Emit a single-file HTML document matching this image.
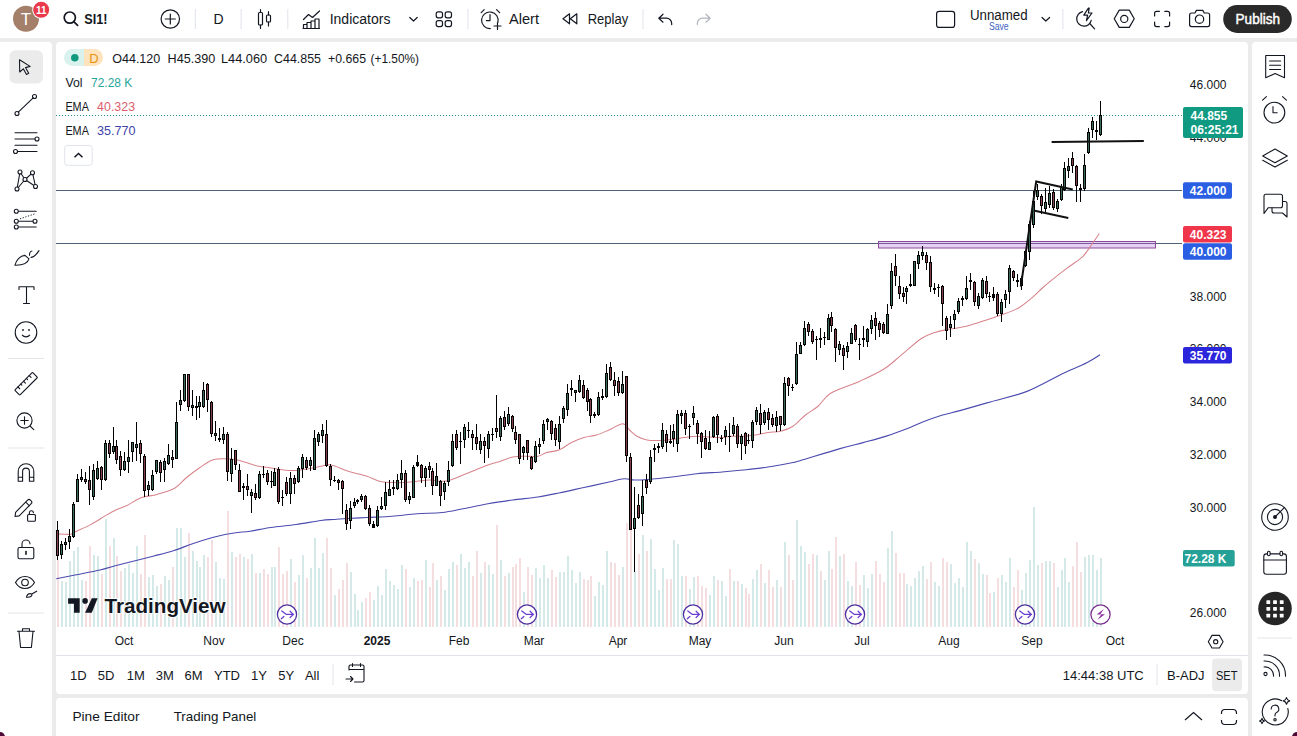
<!DOCTYPE html><html><head><meta charset="utf-8"><style>
html,body{margin:0;padding:0}
body{width:1297px;height:736px;background:#ebebeb;position:relative;overflow:hidden;font-family:"Liberation Sans",sans-serif;color:#131722}
</style></head><body>
<div style="position:absolute;left:0;top:0;width:1297px;height:38px;background:#fff"></div>
<svg style="position:absolute;left:0;top:0" width="1297" height="38"><circle cx="26" cy="18.8" r="13" fill="#a47f69"/><text x="26" y="25" font-size="17" fill="#fff" text-anchor="middle" font-family="Liberation Sans">T</text><circle cx="41.2" cy="9.8" r="9" fill="#fff"/><circle cx="41.2" cy="9.8" r="8" fill="#e9394b"/><text x="41.2" y="13.6" font-size="10" font-weight="bold" fill="#fff" text-anchor="middle" font-family="Liberation Sans">11</text><circle cx="69.8" cy="17.6" r="5.6" stroke="#131722" stroke-width="1.7" fill="none"/><line x1="73.8" y1="21.6" x2="77.6" y2="25.4" stroke="#131722" stroke-width="1.7" stroke-linecap="round"/><text x="84.3" y="24.4" font-size="14.5" font-weight="bold" fill="#131722" font-family="Liberation Sans" textLength="23.2" lengthAdjust="spacingAndGlyphs">SI1!</text><circle cx="170.3" cy="19" r="9.2" stroke="#131722" fill="none" stroke-width="1.2" stroke-linecap="round" stroke-linejoin="round"/><path d="M170.3 14v10M165.3 19h10" stroke="#131722" fill="none" stroke-width="1.2" stroke-linecap="round" stroke-linejoin="round"/><rect x="194.8" y="9" width="1" height="20" fill="#e0e3eb"/><rect x="240.6" y="9" width="1" height="20" fill="#e0e3eb"/><rect x="287.3" y="9" width="1" height="20" fill="#e0e3eb"/><rect x="467.4" y="9" width="1" height="20" fill="#e0e3eb"/><rect x="642.5" y="9" width="1" height="20" fill="#e0e3eb"/><rect x="1062.4" y="9" width="1" height="20" fill="#e0e3eb"/><text x="213.4" y="24" font-size="14" fill="#131722" font-family="Liberation Sans">D</text><path d="M260.5 9.5v3M260.5 25v3.5M268.5 11.5v3.5M268.5 22v4" stroke="#131722" fill="none" stroke-width="1.2" stroke-linecap="round" stroke-linejoin="round"/><rect x="258.5" y="12.5" width="4" height="12.5" rx="1" stroke="#131722" fill="none" stroke-width="1.2" stroke-linecap="round" stroke-linejoin="round"/><rect x="266.5" y="15" width="4" height="7" rx="1" stroke="#131722" fill="none" stroke-width="1.2" stroke-linecap="round" stroke-linejoin="round"/><path d="M303.5 19.5l5-5 4 3 7-6.5" stroke="#131722" fill="none" stroke-width="1.2" stroke-linecap="round" stroke-linejoin="round"/><path d="M303.5 28.5v-4h3.5v4M307 28.5v-6h4v6M311 28.5v-7.5h4v7.5M315 28.5v-9.5h4v9.5M303 28.5h16.5" stroke="#131722" fill="none" stroke-width="1.2" stroke-linecap="round" stroke-linejoin="round"/><text x="329.7" y="23.8" font-size="14" fill="#131722" font-family="Liberation Sans">Indicators</text><path d="M409.8 17.5l3.7 3.5 3.7-3.5" stroke="#131722" fill="none" stroke-width="1.2" stroke-linecap="round" stroke-linejoin="round"/><rect x="436.2" y="11.8" width="6.3" height="6.0" rx="2" stroke="#131722" fill="none" stroke-width="1.2" stroke-linecap="round" stroke-linejoin="round"/><rect x="445.2" y="11.8" width="6.3" height="6.0" rx="2" stroke="#131722" fill="none" stroke-width="1.2" stroke-linecap="round" stroke-linejoin="round"/><rect x="436.2" y="20.6" width="6.3" height="6.0" rx="2" stroke="#131722" fill="none" stroke-width="1.2" stroke-linecap="round" stroke-linejoin="round"/><rect x="445.2" y="20.6" width="6.3" height="6.0" rx="2" stroke="#131722" fill="none" stroke-width="1.2" stroke-linecap="round" stroke-linejoin="round"/><path d="M490.3 28.6a8.3 8.3 0 1 1 7.6 -6.2" stroke="#131722" fill="none" stroke-width="1.2" stroke-linecap="round" stroke-linejoin="round"/><path d="M490 14.6v6h-3.6M481.2 12.6l3-3M499.6 12.6l-3-3M497.5 22.5v7M494 26h7" stroke="#131722" fill="none" stroke-width="1.2" stroke-linecap="round" stroke-linejoin="round"/><text x="509" y="23.8" font-size="14" fill="#131722" font-family="Liberation Sans" textLength="30" lengthAdjust="spacingAndGlyphs">Alert</text><path d="M569.5 13.8l-6.5 5 6.5 5zM576.8 13.8l-6.5 5 6.5 5z" stroke="#131722" fill="none" stroke-width="1.2" stroke-linecap="round" stroke-linejoin="round"/><text x="587.7" y="23.8" font-size="14" fill="#131722" font-family="Liberation Sans" textLength="40.5" lengthAdjust="spacingAndGlyphs">Replay</text><path d="M663 14.2l-4.2 4 4.2 4M659 18.2h7.5a5.2 5.2 0 0 1 5.2 5.2v1.2" stroke="#131722" fill="none" stroke-width="1.2" stroke-linecap="round" stroke-linejoin="round"/><path d="M706 14.2l4.2 4-4.2 4M710 18.2h-7.5a5.2 5.2 0 0 0-5.2 5.2v1.2" stroke="#b2b5be" fill="none" stroke-width="1.2" stroke-linecap="round" stroke-linejoin="round"/><rect x="936.6" y="11.4" width="18" height="16" rx="2.5" stroke="#131722" fill="none" stroke-width="1.2" stroke-linecap="round" stroke-linejoin="round"/><text x="970" y="19.8" font-size="14" fill="#131722" font-family="Liberation Sans" textLength="57.6" lengthAdjust="spacingAndGlyphs">Unnamed</text><text x="988.9" y="30" font-size="10.5" fill="#3d5fc4" font-family="Liberation Sans" textLength="19.8" lengthAdjust="spacingAndGlyphs">Save</text><path d="M1042 17.5l3.8 3.5 3.8-3.5" stroke="#131722" fill="none" stroke-width="1.2" stroke-linecap="round" stroke-linejoin="round"/><path d="M1082.6 11.7a7.3 7.3 0 1 0 8.6 8.6" stroke="#131722" fill="none" stroke-width="1.2" stroke-linecap="round" stroke-linejoin="round"/><path d="M1090.2 24l4.4 4.8" stroke="#131722" fill="none" stroke-width="1.2" stroke-linecap="round" stroke-linejoin="round"/><path d="M1088.4 8.2l-4.6 7h3.8l-1.2 5.4 5.6-7.6h-3.6l0.8-4.8z" stroke="#131722" fill="none" stroke-width="1.2" stroke-linecap="round" stroke-linejoin="round"/><path d="M1119.25 10.1h10l5 8.65-5 8.65h-10l-5-8.65z" stroke="#131722" fill="none" stroke-width="1.2" stroke-linecap="round" stroke-linejoin="round"/><circle cx="1124.25" cy="18.9" r="3.6" stroke="#131722" fill="none" stroke-width="1.2" stroke-linecap="round" stroke-linejoin="round"/><path d="M1154.6 16v-2.6a2 2 0 0 1 2-2h2.8M1164.8 11.4h2.8a2 2 0 0 1 2 2v2.6M1169.6 22v2.6a2 2 0 0 1-2 2h-2.8M1159.4 26.6h-2.8a2 2 0 0 1-2-2v-2.6" stroke="#131722" fill="none" stroke-width="1.2" stroke-linecap="round" stroke-linejoin="round"/><path d="M1189.6 15a2 2 0 0 1 2-2h3.4l1.4-2.6h6.4l1.4 2.6h3.4a2 2 0 0 1 2 2v9.6a2 2 0 0 1-2 2h-16a2 2 0 0 1-2-2z" stroke="#131722" fill="none" stroke-width="1.2" stroke-linecap="round" stroke-linejoin="round"/><circle cx="1199.5" cy="19.2" r="4.2" stroke="#131722" fill="none" stroke-width="1.2" stroke-linecap="round" stroke-linejoin="round"/><rect x="1223.2" y="5.1" width="68.6" height="27.8" rx="13.9" fill="#2a2a2a"/><text x="1235.6" y="23.8" font-size="14" fill="#fff" stroke="#fff" stroke-width="0.45" font-family="Liberation Sans" textLength="44.4" lengthAdjust="spacingAndGlyphs">Publish</text></svg>

<div style="position:absolute;left:0;top:42px;width:51.5px;height:694px;background:#fff;border-radius:0 4px 0 0"></div>
<div style="position:absolute;left:55.5px;top:42px;width:1192.5px;height:651.5px;background:#fff;border-radius:4px"></div>
<div style="position:absolute;left:55.5px;top:698px;width:1192.5px;height:40px;background:#fff;border-radius:4px 4px 0 0"></div>
<div style="position:absolute;left:1252px;top:42px;width:45px;height:694px;background:#fff;border-radius:4px 0 0 0"></div>

<svg style="position:absolute;left:0;top:0" width="1297" height="736" font-family="Liberation Sans">
<defs><clipPath id="cp"><rect x="56" y="42" width="1126" height="585"/></clipPath></defs>
<g clip-path="url(#cp)">
<rect x="57" y="560" width="2" height="67" fill="#f4dee0"/>
<rect x="61" y="581" width="2" height="46" fill="#d5eae8"/>
<rect x="65" y="582" width="2" height="45" fill="#d5eae8"/>
<rect x="69" y="561" width="2" height="66" fill="#d5eae8"/>
<rect x="73" y="551" width="2" height="76" fill="#d5eae8"/>
<rect x="77" y="547" width="2" height="80" fill="#d5eae8"/>
<rect x="81" y="580" width="2" height="47" fill="#d5eae8"/>
<rect x="85" y="581" width="2" height="46" fill="#f4dee0"/>
<rect x="89" y="546" width="2" height="81" fill="#f4dee0"/>
<rect x="93" y="555" width="2" height="72" fill="#d5eae8"/>
<rect x="97" y="556" width="2" height="71" fill="#d5eae8"/>
<rect x="101" y="574" width="2" height="53" fill="#f4dee0"/>
<rect x="105" y="519" width="2" height="108" fill="#d5eae8"/>
<rect x="109" y="546" width="2" height="81" fill="#f4dee0"/>
<rect x="113" y="538" width="2" height="89" fill="#d5eae8"/>
<rect x="116" y="556" width="2" height="71" fill="#f4dee0"/>
<rect x="120" y="571" width="2" height="56" fill="#f4dee0"/>
<rect x="124" y="568" width="2" height="59" fill="#d5eae8"/>
<rect x="128" y="564" width="2" height="63" fill="#d5eae8"/>
<rect x="132" y="573" width="2" height="54" fill="#d5eae8"/>
<rect x="136" y="546" width="2" height="81" fill="#d5eae8"/>
<rect x="140" y="574" width="2" height="53" fill="#f4dee0"/>
<rect x="144" y="535" width="2" height="92" fill="#f4dee0"/>
<rect x="148" y="577" width="2" height="50" fill="#d5eae8"/>
<rect x="152" y="575" width="2" height="52" fill="#d5eae8"/>
<rect x="156" y="586" width="2" height="41" fill="#d5eae8"/>
<rect x="160" y="584" width="2" height="43" fill="#f4dee0"/>
<rect x="164" y="576" width="2" height="51" fill="#d5eae8"/>
<rect x="168" y="580" width="2" height="47" fill="#d5eae8"/>
<rect x="172" y="567" width="2" height="60" fill="#f4dee0"/>
<rect x="176" y="528" width="2" height="99" fill="#d5eae8"/>
<rect x="180" y="528" width="2" height="99" fill="#d5eae8"/>
<rect x="184" y="557" width="2" height="70" fill="#d5eae8"/>
<rect x="188" y="533" width="2" height="94" fill="#f4dee0"/>
<rect x="192" y="551" width="2" height="76" fill="#d5eae8"/>
<rect x="196" y="561" width="2" height="66" fill="#d5eae8"/>
<rect x="199" y="567" width="2" height="60" fill="#d5eae8"/>
<rect x="203" y="555" width="2" height="72" fill="#d5eae8"/>
<rect x="207" y="557" width="2" height="70" fill="#f4dee0"/>
<rect x="211" y="540" width="2" height="87" fill="#f4dee0"/>
<rect x="215" y="562" width="2" height="65" fill="#d5eae8"/>
<rect x="219" y="578" width="2" height="49" fill="#d5eae8"/>
<rect x="223" y="579" width="2" height="48" fill="#d5eae8"/>
<rect x="227" y="511" width="2" height="116" fill="#f4dee0"/>
<rect x="231" y="552" width="2" height="75" fill="#d5eae8"/>
<rect x="235" y="557" width="2" height="70" fill="#f4dee0"/>
<rect x="239" y="554" width="2" height="73" fill="#f4dee0"/>
<rect x="243" y="557" width="2" height="70" fill="#d5eae8"/>
<rect x="247" y="559" width="2" height="68" fill="#f4dee0"/>
<rect x="251" y="554" width="2" height="73" fill="#d5eae8"/>
<rect x="255" y="573" width="2" height="54" fill="#f4dee0"/>
<rect x="259" y="573" width="2" height="54" fill="#d5eae8"/>
<rect x="263" y="569" width="2" height="58" fill="#f4dee0"/>
<rect x="267" y="574" width="2" height="53" fill="#f4dee0"/>
<rect x="271" y="567" width="2" height="60" fill="#d5eae8"/>
<rect x="274" y="567" width="2" height="60" fill="#d5eae8"/>
<rect x="278" y="547" width="2" height="80" fill="#f4dee0"/>
<rect x="282" y="574" width="2" height="53" fill="#f4dee0"/>
<rect x="286" y="571" width="2" height="56" fill="#f4dee0"/>
<rect x="290" y="559" width="2" height="68" fill="#d5eae8"/>
<rect x="294" y="582" width="2" height="45" fill="#f4dee0"/>
<rect x="298" y="575" width="2" height="52" fill="#d5eae8"/>
<rect x="302" y="555" width="2" height="72" fill="#d5eae8"/>
<rect x="306" y="578" width="2" height="49" fill="#f4dee0"/>
<rect x="310" y="568" width="2" height="59" fill="#d5eae8"/>
<rect x="314" y="538" width="2" height="89" fill="#d5eae8"/>
<rect x="318" y="568" width="2" height="59" fill="#d5eae8"/>
<rect x="322" y="553" width="2" height="74" fill="#d5eae8"/>
<rect x="326" y="538" width="2" height="89" fill="#f4dee0"/>
<rect x="330" y="568" width="2" height="59" fill="#f4dee0"/>
<rect x="334" y="595" width="2" height="32" fill="#d5eae8"/>
<rect x="338" y="589" width="2" height="38" fill="#f4dee0"/>
<rect x="342" y="580" width="2" height="47" fill="#f4dee0"/>
<rect x="346" y="563" width="2" height="64" fill="#f4dee0"/>
<rect x="350" y="572" width="2" height="55" fill="#d5eae8"/>
<rect x="354" y="594" width="2" height="33" fill="#d5eae8"/>
<rect x="357" y="610" width="2" height="17" fill="#d5eae8"/>
<rect x="361" y="602" width="2" height="25" fill="#d5eae8"/>
<rect x="365" y="598" width="2" height="29" fill="#f4dee0"/>
<rect x="369" y="592" width="2" height="35" fill="#f4dee0"/>
<rect x="373" y="600" width="2" height="27" fill="#d5eae8"/>
<rect x="377" y="586" width="2" height="41" fill="#d5eae8"/>
<rect x="381" y="595" width="2" height="32" fill="#d5eae8"/>
<rect x="385" y="569" width="2" height="58" fill="#d5eae8"/>
<rect x="389" y="581" width="2" height="46" fill="#d5eae8"/>
<rect x="393" y="585" width="2" height="42" fill="#d5eae8"/>
<rect x="397" y="589" width="2" height="38" fill="#d5eae8"/>
<rect x="401" y="565" width="2" height="62" fill="#d5eae8"/>
<rect x="405" y="569" width="2" height="58" fill="#f4dee0"/>
<rect x="409" y="587" width="2" height="40" fill="#d5eae8"/>
<rect x="413" y="578" width="2" height="49" fill="#d5eae8"/>
<rect x="417" y="581" width="2" height="46" fill="#f4dee0"/>
<rect x="421" y="580" width="2" height="47" fill="#f4dee0"/>
<rect x="425" y="560" width="2" height="67" fill="#d5eae8"/>
<rect x="429" y="587" width="2" height="40" fill="#f4dee0"/>
<rect x="432" y="563" width="2" height="64" fill="#f4dee0"/>
<rect x="436" y="580" width="2" height="47" fill="#d5eae8"/>
<rect x="440" y="576" width="2" height="51" fill="#f4dee0"/>
<rect x="444" y="590" width="2" height="37" fill="#d5eae8"/>
<rect x="448" y="569" width="2" height="58" fill="#d5eae8"/>
<rect x="452" y="562" width="2" height="65" fill="#d5eae8"/>
<rect x="456" y="565" width="2" height="62" fill="#f4dee0"/>
<rect x="460" y="554" width="2" height="73" fill="#d5eae8"/>
<rect x="464" y="568" width="2" height="59" fill="#d5eae8"/>
<rect x="468" y="562" width="2" height="65" fill="#d5eae8"/>
<rect x="472" y="576" width="2" height="51" fill="#f4dee0"/>
<rect x="476" y="551" width="2" height="76" fill="#f4dee0"/>
<rect x="480" y="573" width="2" height="54" fill="#d5eae8"/>
<rect x="484" y="562" width="2" height="65" fill="#f4dee0"/>
<rect x="488" y="565" width="2" height="62" fill="#d5eae8"/>
<rect x="492" y="574" width="2" height="53" fill="#d5eae8"/>
<rect x="496" y="525" width="2" height="102" fill="#f4dee0"/>
<rect x="500" y="560" width="2" height="67" fill="#d5eae8"/>
<rect x="504" y="576" width="2" height="51" fill="#f4dee0"/>
<rect x="508" y="573" width="2" height="54" fill="#d5eae8"/>
<rect x="512" y="567" width="2" height="60" fill="#f4dee0"/>
<rect x="515" y="564" width="2" height="63" fill="#f4dee0"/>
<rect x="519" y="558" width="2" height="69" fill="#f4dee0"/>
<rect x="523" y="592" width="2" height="35" fill="#d5eae8"/>
<rect x="527" y="567" width="2" height="60" fill="#f4dee0"/>
<rect x="531" y="575" width="2" height="52" fill="#f4dee0"/>
<rect x="535" y="568" width="2" height="59" fill="#d5eae8"/>
<rect x="539" y="578" width="2" height="49" fill="#d5eae8"/>
<rect x="543" y="565" width="2" height="62" fill="#d5eae8"/>
<rect x="547" y="578" width="2" height="49" fill="#d5eae8"/>
<rect x="551" y="570" width="2" height="57" fill="#f4dee0"/>
<rect x="555" y="577" width="2" height="50" fill="#f4dee0"/>
<rect x="559" y="572" width="2" height="55" fill="#d5eae8"/>
<rect x="563" y="572" width="2" height="55" fill="#d5eae8"/>
<rect x="567" y="556" width="2" height="71" fill="#d5eae8"/>
<rect x="571" y="570" width="2" height="57" fill="#d5eae8"/>
<rect x="575" y="583" width="2" height="44" fill="#d5eae8"/>
<rect x="579" y="572" width="2" height="55" fill="#d5eae8"/>
<rect x="583" y="579" width="2" height="48" fill="#f4dee0"/>
<rect x="587" y="580" width="2" height="47" fill="#f4dee0"/>
<rect x="590" y="576" width="2" height="51" fill="#f4dee0"/>
<rect x="594" y="596" width="2" height="31" fill="#d5eae8"/>
<rect x="598" y="582" width="2" height="45" fill="#d5eae8"/>
<rect x="602" y="585" width="2" height="42" fill="#d5eae8"/>
<rect x="606" y="551" width="2" height="76" fill="#d5eae8"/>
<rect x="610" y="562" width="2" height="65" fill="#f4dee0"/>
<rect x="614" y="563" width="2" height="64" fill="#f4dee0"/>
<rect x="618" y="575" width="2" height="52" fill="#f4dee0"/>
<rect x="622" y="567" width="2" height="60" fill="#d5eae8"/>
<rect x="626" y="523" width="2" height="104" fill="#f4dee0"/>
<rect x="630" y="530" width="2" height="97" fill="#f4dee0"/>
<rect x="634" y="571" width="2" height="56" fill="#d5eae8"/>
<rect x="638" y="554" width="2" height="73" fill="#f4dee0"/>
<rect x="642" y="535" width="2" height="92" fill="#d5eae8"/>
<rect x="646" y="551" width="2" height="76" fill="#f4dee0"/>
<rect x="650" y="539" width="2" height="88" fill="#d5eae8"/>
<rect x="654" y="569" width="2" height="58" fill="#d5eae8"/>
<rect x="658" y="590" width="2" height="37" fill="#d5eae8"/>
<rect x="662" y="568" width="2" height="59" fill="#d5eae8"/>
<rect x="666" y="579" width="2" height="48" fill="#f4dee0"/>
<rect x="670" y="579" width="2" height="48" fill="#f4dee0"/>
<rect x="673" y="540" width="2" height="87" fill="#d5eae8"/>
<rect x="677" y="544" width="2" height="83" fill="#d5eae8"/>
<rect x="681" y="576" width="2" height="51" fill="#d5eae8"/>
<rect x="685" y="576" width="2" height="51" fill="#f4dee0"/>
<rect x="689" y="589" width="2" height="38" fill="#d5eae8"/>
<rect x="693" y="577" width="2" height="50" fill="#d5eae8"/>
<rect x="697" y="576" width="2" height="51" fill="#f4dee0"/>
<rect x="701" y="586" width="2" height="41" fill="#f4dee0"/>
<rect x="705" y="588" width="2" height="39" fill="#f4dee0"/>
<rect x="709" y="595" width="2" height="32" fill="#d5eae8"/>
<rect x="713" y="576" width="2" height="51" fill="#d5eae8"/>
<rect x="717" y="580" width="2" height="47" fill="#f4dee0"/>
<rect x="721" y="581" width="2" height="46" fill="#d5eae8"/>
<rect x="725" y="596" width="2" height="31" fill="#d5eae8"/>
<rect x="729" y="569" width="2" height="58" fill="#f4dee0"/>
<rect x="733" y="581" width="2" height="46" fill="#d5eae8"/>
<rect x="737" y="581" width="2" height="46" fill="#f4dee0"/>
<rect x="741" y="584" width="2" height="43" fill="#d5eae8"/>
<rect x="745" y="588" width="2" height="39" fill="#f4dee0"/>
<rect x="748" y="594" width="2" height="33" fill="#f4dee0"/>
<rect x="752" y="579" width="2" height="48" fill="#d5eae8"/>
<rect x="756" y="570" width="2" height="57" fill="#d5eae8"/>
<rect x="760" y="564" width="2" height="63" fill="#f4dee0"/>
<rect x="764" y="583" width="2" height="44" fill="#d5eae8"/>
<rect x="768" y="570" width="2" height="57" fill="#f4dee0"/>
<rect x="772" y="587" width="2" height="40" fill="#f4dee0"/>
<rect x="776" y="580" width="2" height="47" fill="#d5eae8"/>
<rect x="780" y="587" width="2" height="40" fill="#f4dee0"/>
<rect x="784" y="542" width="2" height="85" fill="#d5eae8"/>
<rect x="788" y="555" width="2" height="72" fill="#f4dee0"/>
<rect x="792" y="580" width="2" height="47" fill="#f4dee0"/>
<rect x="796" y="520" width="2" height="107" fill="#d5eae8"/>
<rect x="800" y="546" width="2" height="81" fill="#d5eae8"/>
<rect x="804" y="552" width="2" height="75" fill="#d5eae8"/>
<rect x="808" y="564" width="2" height="63" fill="#f4dee0"/>
<rect x="812" y="554" width="2" height="73" fill="#f4dee0"/>
<rect x="816" y="555" width="2" height="72" fill="#d5eae8"/>
<rect x="820" y="571" width="2" height="56" fill="#f4dee0"/>
<rect x="824" y="580" width="2" height="47" fill="#d5eae8"/>
<rect x="828" y="551" width="2" height="76" fill="#d5eae8"/>
<rect x="831" y="569" width="2" height="58" fill="#f4dee0"/>
<rect x="835" y="537" width="2" height="90" fill="#f4dee0"/>
<rect x="839" y="556" width="2" height="71" fill="#d5eae8"/>
<rect x="843" y="554" width="2" height="73" fill="#f4dee0"/>
<rect x="847" y="581" width="2" height="46" fill="#d5eae8"/>
<rect x="851" y="586" width="2" height="41" fill="#d5eae8"/>
<rect x="855" y="562" width="2" height="65" fill="#f4dee0"/>
<rect x="859" y="585" width="2" height="42" fill="#f4dee0"/>
<rect x="863" y="575" width="2" height="52" fill="#d5eae8"/>
<rect x="867" y="588" width="2" height="39" fill="#d5eae8"/>
<rect x="871" y="574" width="2" height="53" fill="#d5eae8"/>
<rect x="875" y="561" width="2" height="66" fill="#f4dee0"/>
<rect x="879" y="574" width="2" height="53" fill="#f4dee0"/>
<rect x="883" y="582" width="2" height="45" fill="#f4dee0"/>
<rect x="887" y="548" width="2" height="79" fill="#d5eae8"/>
<rect x="891" y="531" width="2" height="96" fill="#d5eae8"/>
<rect x="895" y="553" width="2" height="74" fill="#f4dee0"/>
<rect x="899" y="573" width="2" height="54" fill="#f4dee0"/>
<rect x="903" y="573" width="2" height="54" fill="#f4dee0"/>
<rect x="906" y="584" width="2" height="43" fill="#d5eae8"/>
<rect x="910" y="586" width="2" height="41" fill="#d5eae8"/>
<rect x="914" y="578" width="2" height="49" fill="#d5eae8"/>
<rect x="918" y="571" width="2" height="56" fill="#d5eae8"/>
<rect x="922" y="566" width="2" height="61" fill="#d5eae8"/>
<rect x="926" y="579" width="2" height="48" fill="#f4dee0"/>
<rect x="930" y="562" width="2" height="65" fill="#f4dee0"/>
<rect x="934" y="582" width="2" height="45" fill="#d5eae8"/>
<rect x="938" y="586" width="2" height="41" fill="#d5eae8"/>
<rect x="942" y="558" width="2" height="69" fill="#f4dee0"/>
<rect x="946" y="562" width="2" height="65" fill="#f4dee0"/>
<rect x="950" y="564" width="2" height="63" fill="#d5eae8"/>
<rect x="954" y="583" width="2" height="44" fill="#d5eae8"/>
<rect x="958" y="578" width="2" height="49" fill="#d5eae8"/>
<rect x="962" y="587" width="2" height="40" fill="#d5eae8"/>
<rect x="966" y="542" width="2" height="85" fill="#d5eae8"/>
<rect x="970" y="551" width="2" height="76" fill="#d5eae8"/>
<rect x="974" y="559" width="2" height="68" fill="#f4dee0"/>
<rect x="978" y="563" width="2" height="64" fill="#d5eae8"/>
<rect x="982" y="574" width="2" height="53" fill="#d5eae8"/>
<rect x="986" y="575" width="2" height="52" fill="#f4dee0"/>
<rect x="989" y="593" width="2" height="34" fill="#f4dee0"/>
<rect x="993" y="592" width="2" height="35" fill="#d5eae8"/>
<rect x="997" y="578" width="2" height="49" fill="#f4dee0"/>
<rect x="1001" y="575" width="2" height="52" fill="#d5eae8"/>
<rect x="1005" y="582" width="2" height="45" fill="#d5eae8"/>
<rect x="1009" y="558" width="2" height="69" fill="#d5eae8"/>
<rect x="1013" y="587" width="2" height="40" fill="#f4dee0"/>
<rect x="1017" y="570" width="2" height="57" fill="#f4dee0"/>
<rect x="1021" y="590" width="2" height="37" fill="#d5eae8"/>
<rect x="1025" y="573" width="2" height="54" fill="#d5eae8"/>
<rect x="1029" y="560" width="2" height="67" fill="#d5eae8"/>
<rect x="1033" y="507" width="2" height="120" fill="#d5eae8"/>
<rect x="1037" y="565" width="2" height="62" fill="#d5eae8"/>
<rect x="1041" y="563" width="2" height="64" fill="#f4dee0"/>
<rect x="1045" y="561" width="2" height="66" fill="#d5eae8"/>
<rect x="1049" y="561" width="2" height="66" fill="#d5eae8"/>
<rect x="1053" y="563" width="2" height="64" fill="#f4dee0"/>
<rect x="1057" y="587" width="2" height="40" fill="#d5eae8"/>
<rect x="1061" y="570" width="2" height="57" fill="#d5eae8"/>
<rect x="1064" y="558" width="2" height="69" fill="#d5eae8"/>
<rect x="1068" y="582" width="2" height="45" fill="#d5eae8"/>
<rect x="1072" y="566" width="2" height="61" fill="#f4dee0"/>
<rect x="1076" y="542" width="2" height="85" fill="#f4dee0"/>
<rect x="1080" y="572" width="2" height="55" fill="#f4dee0"/>
<rect x="1084" y="557" width="2" height="70" fill="#d5eae8"/>
<rect x="1088" y="555" width="2" height="72" fill="#d5eae8"/>
<rect x="1092" y="555" width="2" height="72" fill="#d5eae8"/>
<rect x="1096" y="570" width="2" height="57" fill="#d5eae8"/>
<rect x="1100" y="558" width="2" height="69" fill="#d5eae8"/>
<rect x="56" y="190" width="1126" height="1" fill="#4f6378"/>
<rect x="56" y="243" width="1126" height="1" fill="#4f6378"/>
<rect x="878.5" y="241.5" width="277" height="6.5" fill="#e7d1f3" stroke="#8b4a9c" stroke-width="1"/>
<rect x="879" y="243" width="276" height="1" fill="#7a5aa0"/>
<path d="M56.50 533.75 C58.80 533.84 67.15 534.64 70.30 534.30 C73.45 533.96 72.00 533.32 75.40 531.70 C78.80 530.08 85.60 527.32 90.70 524.60 C95.80 521.88 101.75 517.87 106.00 515.40 C110.25 512.93 112.80 511.42 116.20 509.80 C119.60 508.18 122.15 507.73 126.40 505.70 C130.65 503.67 136.60 499.47 141.70 497.60 C146.80 495.73 151.45 496.10 157.00 494.50 C162.55 492.90 170.17 490.75 175.00 488.00 C179.83 485.25 181.83 481.42 186.00 478.00 C190.17 474.58 195.58 470.50 200.00 467.50 C204.42 464.50 208.33 461.46 212.50 460.00 C216.67 458.54 220.83 458.75 225.00 458.75 C229.17 458.75 233.33 459.17 237.50 460.00 C241.67 460.83 246.50 462.71 250.00 463.75 C253.50 464.79 255.00 465.54 258.50 466.25 C262.00 466.96 266.83 467.38 271.00 468.00 C275.17 468.62 279.33 469.58 283.50 470.00 C287.67 470.42 291.83 470.71 296.00 470.50 C300.17 470.29 304.33 469.46 308.50 468.75 C312.67 468.04 317.25 466.88 321.00 466.25 C324.75 465.62 326.83 464.29 331.00 465.00 C335.17 465.71 342.08 469.17 346.00 470.50 C349.92 471.83 351.00 472.04 354.50 473.00 C358.00 473.96 362.83 474.88 367.00 476.25 C371.17 477.62 375.33 480.21 379.50 481.25 C383.67 482.29 387.83 482.29 392.00 482.50 C396.17 482.71 400.33 482.71 404.50 482.50 C408.67 482.29 412.83 481.67 417.00 481.25 C421.17 480.83 425.33 480.00 429.50 480.00 C433.67 480.00 438.50 481.25 442.00 481.25 C445.50 481.25 447.00 481.04 450.50 480.00 C454.00 478.96 458.83 476.67 463.00 475.00 C467.17 473.33 471.33 471.67 475.50 470.00 C479.67 468.33 483.83 466.46 488.00 465.00 C492.17 463.54 496.33 462.58 500.50 461.25 C504.67 459.92 508.83 457.83 513.00 457.00 C517.17 456.17 521.33 456.38 525.50 456.25 C529.67 456.12 534.50 456.88 538.00 456.25 C541.50 455.62 543.00 453.54 546.50 452.50 C550.00 451.46 554.83 451.67 559.00 450.00 C563.17 448.33 567.33 444.58 571.50 442.50 C575.67 440.42 579.83 438.75 584.00 437.50 C588.17 436.25 592.33 436.25 596.50 435.00 C600.67 433.75 604.62 431.88 609.00 430.00 C613.38 428.12 619.33 423.75 622.75 423.75 C626.17 423.75 627.12 427.92 629.50 430.00 C631.88 432.08 634.08 434.58 637.00 436.25 C639.92 437.92 643.25 439.29 647.00 440.00 C650.75 440.71 655.33 440.58 659.50 440.50 C663.67 440.42 667.83 440.00 672.00 439.50 C676.17 439.00 680.33 438.04 684.50 437.50 C688.67 436.96 692.83 436.33 697.00 436.25 C701.17 436.17 705.33 436.79 709.50 437.00 C713.67 437.21 718.50 437.62 722.00 437.50 C725.50 437.38 727.00 436.46 730.50 436.25 C734.00 436.04 738.83 436.46 743.00 436.25 C747.17 436.04 751.33 435.62 755.50 435.00 C759.67 434.38 763.83 433.12 768.00 432.50 C772.17 431.88 776.33 432.29 780.50 431.25 C784.67 430.21 788.83 428.96 793.00 426.25 C797.17 423.54 801.33 418.33 805.50 415.00 C809.67 411.67 813.75 409.92 818.00 406.25 C822.25 402.58 824.03 397.18 831.00 393.00 C837.97 388.82 851.03 385.15 859.80 381.20 C868.57 377.25 876.80 373.55 883.60 369.30 C890.40 365.05 894.37 360.80 900.60 355.70 C906.83 350.60 915.27 342.57 921.00 338.70 C926.73 334.83 930.58 334.03 935.00 332.50 C939.42 330.97 943.33 330.33 947.50 329.50 C951.67 328.67 955.83 328.33 960.00 327.50 C964.17 326.67 968.33 325.67 972.50 324.50 C976.67 323.33 980.83 321.88 985.00 320.50 C989.17 319.12 994.75 317.17 997.50 316.25 C1000.25 315.33 998.00 316.38 1001.50 315.00 C1005.00 313.62 1013.60 310.72 1018.50 308.00 C1023.40 305.28 1026.73 302.20 1030.90 298.70 C1035.07 295.20 1039.15 290.80 1043.50 287.00 C1047.85 283.20 1052.58 279.40 1057.00 275.90 C1061.42 272.40 1065.67 269.27 1070.00 266.00 C1074.33 262.73 1079.33 259.97 1083.00 256.30 C1086.67 252.63 1089.28 247.80 1092.00 244.00 C1094.72 240.20 1098.08 235.25 1099.30 233.50" fill="none" stroke="#d8848c" stroke-width="1.05" stroke-linejoin="round"/>
<path d="M56.25 578.75 C59.38 578.12 67.71 576.46 75.00 575.00 C82.29 573.54 93.30 571.53 100.00 570.00 C106.70 568.47 106.20 568.13 115.20 565.80 C124.20 563.47 144.20 558.55 154.00 556.00 C163.80 553.45 167.58 552.54 174.00 550.50 C180.42 548.46 186.08 545.92 192.50 543.75 C198.92 541.58 207.08 539.04 212.50 537.50 C217.92 535.96 220.83 535.33 225.00 534.50 C229.17 533.67 233.33 533.04 237.50 532.50 C241.67 531.96 244.42 532.08 250.00 531.25 C255.58 530.42 263.33 528.62 271.00 527.50 C278.67 526.38 287.67 525.67 296.00 524.50 C304.33 523.33 314.75 521.33 321.00 520.50 C327.25 519.67 329.75 519.79 333.50 519.50 C337.25 519.21 337.92 519.08 343.50 518.75 C349.08 518.42 358.92 517.92 367.00 517.50 C375.08 517.08 383.67 516.88 392.00 516.25 C400.33 515.62 408.67 514.38 417.00 513.75 C425.33 513.12 434.33 513.33 442.00 512.50 C449.67 511.67 455.33 510.21 463.00 508.75 C470.67 507.29 479.67 505.21 488.00 503.75 C496.33 502.29 504.67 501.12 513.00 500.00 C521.33 498.88 530.33 498.17 538.00 497.00 C545.67 495.83 551.33 494.58 559.00 493.00 C566.67 491.42 575.67 489.33 584.00 487.50 C592.33 485.67 602.33 483.46 609.00 482.00 C615.67 480.54 619.75 479.08 624.00 478.75 C628.25 478.42 630.67 479.88 634.50 480.00 C638.33 480.12 640.75 480.00 647.00 479.50 C653.25 479.00 663.67 477.96 672.00 477.00 C680.33 476.04 688.67 474.58 697.00 473.75 C705.33 472.92 714.33 472.62 722.00 472.00 C729.67 471.38 735.33 470.83 743.00 470.00 C750.67 469.17 759.67 468.25 768.00 467.00 C776.33 465.75 787.67 463.55 793.00 462.50 C798.33 461.45 792.17 463.02 800.00 460.70 C807.83 458.38 829.48 451.62 840.00 448.60 C850.52 445.58 855.38 444.68 863.10 442.60 C870.82 440.52 878.58 438.57 886.30 436.10 C894.02 433.63 903.23 430.18 909.40 427.80 C915.57 425.42 917.90 423.88 923.30 421.80 C928.70 419.72 935.68 417.17 941.80 415.30 C947.92 413.43 951.77 412.87 960.00 410.60 C968.23 408.33 980.03 404.90 991.20 401.70 C1002.37 398.50 1015.05 396.10 1027.00 391.40 C1038.95 386.70 1052.93 378.28 1062.90 373.50 C1072.87 368.72 1080.62 365.82 1086.80 362.70 C1092.98 359.58 1097.80 356.12 1100.00 354.80" fill="none" stroke="#4b4bb0" stroke-width="1.15" stroke-linejoin="round"/>
<line x1="56" y1="115.5" x2="1182" y2="115.5" stroke="#2f8f82" stroke-width="1" stroke-dasharray="1 2"/>
<rect x="57" y="521" width="1" height="39" fill="#000"/>
<rect x="56" y="530" width="3" height="26" fill="#000"/>
<rect x="57" y="531" width="1" height="24" fill="#86404a"/>
<rect x="61" y="541" width="1" height="18" fill="#000"/>
<rect x="60" y="544" width="3" height="11" fill="#000"/>
<rect x="61" y="545" width="1" height="9" fill="#3b6a5a"/>
<rect x="65" y="538" width="1" height="12" fill="#000"/>
<rect x="64" y="542" width="3" height="3" fill="#000"/>
<rect x="65" y="543" width="1" height="1" fill="#3b6a5a"/>
<rect x="69" y="529" width="1" height="20" fill="#000"/>
<rect x="68" y="536" width="3" height="6" fill="#000"/>
<rect x="69" y="537" width="1" height="4" fill="#3b6a5a"/>
<rect x="73" y="502" width="1" height="36" fill="#000"/>
<rect x="72" y="504" width="3" height="33" fill="#000"/>
<rect x="73" y="505" width="1" height="31" fill="#3b6a5a"/>
<rect x="77" y="474" width="1" height="28" fill="#000"/>
<rect x="76" y="479" width="3" height="23" fill="#000"/>
<rect x="77" y="480" width="1" height="21" fill="#3b6a5a"/>
<rect x="81" y="469" width="1" height="13" fill="#000"/>
<rect x="80" y="477" width="3" height="3" fill="#000"/>
<rect x="81" y="478" width="1" height="1" fill="#3b6a5a"/>
<rect x="85" y="472" width="1" height="12" fill="#000"/>
<rect x="84" y="479" width="3" height="3" fill="#000"/>
<rect x="85" y="480" width="1" height="1" fill="#86404a"/>
<rect x="89" y="466" width="1" height="39" fill="#000"/>
<rect x="88" y="480" width="3" height="10" fill="#000"/>
<rect x="89" y="481" width="1" height="8" fill="#86404a"/>
<rect x="93" y="464" width="1" height="36" fill="#000"/>
<rect x="92" y="470" width="3" height="27" fill="#000"/>
<rect x="93" y="471" width="1" height="25" fill="#3b6a5a"/>
<rect x="97" y="461" width="1" height="19" fill="#000"/>
<rect x="96" y="468" width="3" height="11" fill="#000"/>
<rect x="97" y="469" width="1" height="9" fill="#3b6a5a"/>
<rect x="101" y="466" width="1" height="24" fill="#000"/>
<rect x="100" y="467" width="3" height="13" fill="#000"/>
<rect x="101" y="468" width="1" height="11" fill="#86404a"/>
<rect x="105" y="440" width="1" height="41" fill="#000"/>
<rect x="104" y="443" width="3" height="37" fill="#000"/>
<rect x="105" y="444" width="1" height="35" fill="#3b6a5a"/>
<rect x="109" y="440" width="1" height="18" fill="#000"/>
<rect x="108" y="443" width="3" height="11" fill="#000"/>
<rect x="109" y="444" width="1" height="9" fill="#86404a"/>
<rect x="113" y="427" width="1" height="27" fill="#000"/>
<rect x="112" y="446" width="3" height="6" fill="#000"/>
<rect x="113" y="447" width="1" height="4" fill="#3b6a5a"/>
<rect x="116" y="440" width="1" height="24" fill="#000"/>
<rect x="115" y="446" width="3" height="14" fill="#000"/>
<rect x="116" y="447" width="1" height="12" fill="#86404a"/>
<rect x="120" y="451" width="1" height="25" fill="#000"/>
<rect x="119" y="456" width="3" height="14" fill="#000"/>
<rect x="120" y="457" width="1" height="12" fill="#86404a"/>
<rect x="124" y="452" width="1" height="19" fill="#000"/>
<rect x="123" y="461" width="3" height="9" fill="#000"/>
<rect x="124" y="462" width="1" height="7" fill="#3b6a5a"/>
<rect x="128" y="440" width="1" height="33" fill="#000"/>
<rect x="127" y="457" width="3" height="5" fill="#000"/>
<rect x="128" y="458" width="1" height="3" fill="#3b6a5a"/>
<rect x="132" y="442" width="1" height="20" fill="#000"/>
<rect x="131" y="442" width="3" height="10" fill="#000"/>
<rect x="132" y="443" width="1" height="8" fill="#3b6a5a"/>
<rect x="136" y="422" width="1" height="39" fill="#000"/>
<rect x="135" y="444" width="3" height="4" fill="#000"/>
<rect x="136" y="445" width="1" height="2" fill="#3b6a5a"/>
<rect x="140" y="440" width="1" height="23" fill="#000"/>
<rect x="139" y="443" width="3" height="11" fill="#000"/>
<rect x="140" y="444" width="1" height="9" fill="#86404a"/>
<rect x="144" y="454" width="1" height="43" fill="#000"/>
<rect x="143" y="456" width="3" height="35" fill="#000"/>
<rect x="144" y="457" width="1" height="33" fill="#86404a"/>
<rect x="148" y="481" width="1" height="15" fill="#000"/>
<rect x="147" y="485" width="3" height="5" fill="#000"/>
<rect x="148" y="486" width="1" height="3" fill="#3b6a5a"/>
<rect x="152" y="470" width="1" height="21" fill="#000"/>
<rect x="151" y="475" width="3" height="15" fill="#000"/>
<rect x="152" y="476" width="1" height="13" fill="#3b6a5a"/>
<rect x="156" y="460" width="1" height="14" fill="#000"/>
<rect x="155" y="460" width="3" height="12" fill="#000"/>
<rect x="156" y="461" width="1" height="10" fill="#3b6a5a"/>
<rect x="160" y="460" width="1" height="22" fill="#000"/>
<rect x="159" y="462" width="3" height="11" fill="#000"/>
<rect x="160" y="463" width="1" height="9" fill="#86404a"/>
<rect x="164" y="458" width="1" height="24" fill="#000"/>
<rect x="163" y="461" width="3" height="9" fill="#000"/>
<rect x="164" y="462" width="1" height="7" fill="#3b6a5a"/>
<rect x="168" y="444" width="1" height="21" fill="#000"/>
<rect x="167" y="455" width="3" height="9" fill="#000"/>
<rect x="168" y="456" width="1" height="7" fill="#3b6a5a"/>
<rect x="172" y="450" width="1" height="18" fill="#000"/>
<rect x="171" y="457" width="3" height="3" fill="#000"/>
<rect x="172" y="458" width="1" height="1" fill="#86404a"/>
<rect x="176" y="402" width="1" height="57" fill="#000"/>
<rect x="175" y="422" width="3" height="37" fill="#000"/>
<rect x="176" y="423" width="1" height="35" fill="#3b6a5a"/>
<rect x="180" y="390" width="1" height="21" fill="#000"/>
<rect x="179" y="400" width="3" height="5" fill="#000"/>
<rect x="180" y="401" width="1" height="3" fill="#3b6a5a"/>
<rect x="184" y="374" width="1" height="28" fill="#000"/>
<rect x="183" y="374" width="3" height="27" fill="#000"/>
<rect x="184" y="375" width="1" height="25" fill="#3b6a5a"/>
<rect x="188" y="374" width="1" height="37" fill="#000"/>
<rect x="187" y="374" width="3" height="33" fill="#000"/>
<rect x="188" y="375" width="1" height="31" fill="#86404a"/>
<rect x="192" y="390" width="1" height="26" fill="#000"/>
<rect x="191" y="405" width="3" height="3" fill="#000"/>
<rect x="192" y="406" width="1" height="1" fill="#3b6a5a"/>
<rect x="196" y="396" width="1" height="24" fill="#000"/>
<rect x="195" y="406" width="3" height="2" fill="#000"/>
<rect x="199" y="396" width="1" height="22" fill="#000"/>
<rect x="198" y="402" width="3" height="5" fill="#000"/>
<rect x="199" y="403" width="1" height="3" fill="#3b6a5a"/>
<rect x="203" y="382" width="1" height="26" fill="#000"/>
<rect x="202" y="390" width="3" height="17" fill="#000"/>
<rect x="203" y="391" width="1" height="15" fill="#3b6a5a"/>
<rect x="207" y="383" width="1" height="29" fill="#000"/>
<rect x="206" y="384" width="3" height="16" fill="#000"/>
<rect x="207" y="385" width="1" height="14" fill="#86404a"/>
<rect x="211" y="401" width="1" height="36" fill="#000"/>
<rect x="210" y="402" width="3" height="32" fill="#000"/>
<rect x="211" y="403" width="1" height="30" fill="#86404a"/>
<rect x="215" y="421" width="1" height="20" fill="#000"/>
<rect x="214" y="433" width="3" height="3" fill="#000"/>
<rect x="215" y="434" width="1" height="1" fill="#3b6a5a"/>
<rect x="219" y="428" width="1" height="14" fill="#000"/>
<rect x="218" y="438" width="3" height="2" fill="#000"/>
<rect x="223" y="427" width="1" height="17" fill="#000"/>
<rect x="222" y="434" width="3" height="6" fill="#000"/>
<rect x="223" y="435" width="1" height="4" fill="#3b6a5a"/>
<rect x="227" y="432" width="1" height="49" fill="#000"/>
<rect x="226" y="434" width="3" height="38" fill="#000"/>
<rect x="227" y="435" width="1" height="36" fill="#86404a"/>
<rect x="231" y="448" width="1" height="34" fill="#000"/>
<rect x="230" y="459" width="3" height="15" fill="#000"/>
<rect x="231" y="460" width="1" height="13" fill="#3b6a5a"/>
<rect x="235" y="450" width="1" height="20" fill="#000"/>
<rect x="234" y="450" width="3" height="15" fill="#000"/>
<rect x="235" y="451" width="1" height="13" fill="#86404a"/>
<rect x="239" y="464" width="1" height="28" fill="#000"/>
<rect x="238" y="470" width="3" height="22" fill="#000"/>
<rect x="239" y="471" width="1" height="20" fill="#86404a"/>
<rect x="243" y="483" width="1" height="17" fill="#000"/>
<rect x="242" y="486" width="3" height="2" fill="#000"/>
<rect x="247" y="474" width="1" height="22" fill="#000"/>
<rect x="246" y="486" width="3" height="4" fill="#000"/>
<rect x="247" y="487" width="1" height="2" fill="#86404a"/>
<rect x="251" y="489" width="1" height="24" fill="#000"/>
<rect x="250" y="492" width="3" height="4" fill="#000"/>
<rect x="251" y="493" width="1" height="2" fill="#3b6a5a"/>
<rect x="255" y="484" width="1" height="16" fill="#000"/>
<rect x="254" y="493" width="3" height="5" fill="#000"/>
<rect x="255" y="494" width="1" height="3" fill="#86404a"/>
<rect x="259" y="471" width="1" height="28" fill="#000"/>
<rect x="258" y="474" width="3" height="24" fill="#000"/>
<rect x="259" y="475" width="1" height="22" fill="#3b6a5a"/>
<rect x="263" y="466" width="1" height="12" fill="#000"/>
<rect x="262" y="474" width="3" height="1" fill="#000"/>
<rect x="267" y="470" width="1" height="15" fill="#000"/>
<rect x="266" y="473" width="3" height="9" fill="#000"/>
<rect x="267" y="474" width="1" height="7" fill="#86404a"/>
<rect x="271" y="471" width="1" height="17" fill="#000"/>
<rect x="270" y="481" width="3" height="1" fill="#000"/>
<rect x="274" y="468" width="1" height="18" fill="#000"/>
<rect x="273" y="472" width="3" height="14" fill="#000"/>
<rect x="274" y="473" width="1" height="12" fill="#3b6a5a"/>
<rect x="278" y="467" width="1" height="37" fill="#000"/>
<rect x="277" y="469" width="3" height="33" fill="#000"/>
<rect x="278" y="470" width="1" height="31" fill="#86404a"/>
<rect x="282" y="490" width="1" height="16" fill="#000"/>
<rect x="281" y="497" width="3" height="1" fill="#000"/>
<rect x="286" y="477" width="1" height="19" fill="#000"/>
<rect x="285" y="482" width="3" height="12" fill="#000"/>
<rect x="286" y="483" width="1" height="10" fill="#86404a"/>
<rect x="290" y="472" width="1" height="32" fill="#000"/>
<rect x="289" y="478" width="3" height="16" fill="#000"/>
<rect x="290" y="479" width="1" height="14" fill="#3b6a5a"/>
<rect x="294" y="475" width="1" height="19" fill="#000"/>
<rect x="293" y="478" width="3" height="6" fill="#000"/>
<rect x="294" y="479" width="1" height="4" fill="#86404a"/>
<rect x="298" y="466" width="1" height="17" fill="#000"/>
<rect x="297" y="468" width="3" height="14" fill="#000"/>
<rect x="298" y="469" width="1" height="12" fill="#3b6a5a"/>
<rect x="302" y="454" width="1" height="24" fill="#000"/>
<rect x="301" y="457" width="3" height="12" fill="#000"/>
<rect x="302" y="458" width="1" height="10" fill="#3b6a5a"/>
<rect x="306" y="457" width="1" height="13" fill="#000"/>
<rect x="305" y="460" width="3" height="8" fill="#000"/>
<rect x="306" y="461" width="1" height="6" fill="#86404a"/>
<rect x="310" y="457" width="1" height="14" fill="#000"/>
<rect x="309" y="460" width="3" height="6" fill="#000"/>
<rect x="310" y="461" width="1" height="4" fill="#3b6a5a"/>
<rect x="314" y="430" width="1" height="40" fill="#000"/>
<rect x="313" y="438" width="3" height="32" fill="#000"/>
<rect x="314" y="439" width="1" height="30" fill="#3b6a5a"/>
<rect x="318" y="432" width="1" height="14" fill="#000"/>
<rect x="317" y="434" width="3" height="8" fill="#000"/>
<rect x="318" y="435" width="1" height="6" fill="#3b6a5a"/>
<rect x="322" y="424" width="1" height="19" fill="#000"/>
<rect x="321" y="430" width="3" height="6" fill="#000"/>
<rect x="322" y="431" width="1" height="4" fill="#3b6a5a"/>
<rect x="326" y="420" width="1" height="47" fill="#000"/>
<rect x="325" y="434" width="3" height="32" fill="#000"/>
<rect x="326" y="435" width="1" height="30" fill="#86404a"/>
<rect x="330" y="464" width="1" height="22" fill="#000"/>
<rect x="329" y="466" width="3" height="14" fill="#000"/>
<rect x="330" y="467" width="1" height="12" fill="#86404a"/>
<rect x="334" y="476" width="1" height="6" fill="#000"/>
<rect x="333" y="480" width="3" height="1" fill="#000"/>
<rect x="338" y="479" width="1" height="11" fill="#000"/>
<rect x="337" y="480" width="3" height="3" fill="#000"/>
<rect x="338" y="481" width="1" height="1" fill="#86404a"/>
<rect x="342" y="480" width="1" height="34" fill="#000"/>
<rect x="341" y="481" width="3" height="8" fill="#000"/>
<rect x="342" y="482" width="1" height="6" fill="#86404a"/>
<rect x="346" y="504" width="1" height="26" fill="#000"/>
<rect x="345" y="510" width="3" height="14" fill="#000"/>
<rect x="346" y="511" width="1" height="12" fill="#86404a"/>
<rect x="350" y="501" width="1" height="28" fill="#000"/>
<rect x="349" y="508" width="3" height="13" fill="#000"/>
<rect x="350" y="509" width="1" height="11" fill="#3b6a5a"/>
<rect x="354" y="498" width="1" height="10" fill="#000"/>
<rect x="353" y="502" width="3" height="4" fill="#000"/>
<rect x="354" y="503" width="1" height="2" fill="#3b6a5a"/>
<rect x="357" y="499" width="1" height="5" fill="#000"/>
<rect x="356" y="500" width="3" height="2" fill="#000"/>
<rect x="361" y="494" width="1" height="8" fill="#000"/>
<rect x="360" y="496" width="3" height="4" fill="#000"/>
<rect x="361" y="497" width="1" height="2" fill="#3b6a5a"/>
<rect x="365" y="495" width="1" height="15" fill="#000"/>
<rect x="364" y="496" width="3" height="13" fill="#000"/>
<rect x="365" y="497" width="1" height="11" fill="#86404a"/>
<rect x="369" y="505" width="1" height="21" fill="#000"/>
<rect x="368" y="508" width="3" height="16" fill="#000"/>
<rect x="369" y="509" width="1" height="14" fill="#86404a"/>
<rect x="373" y="521" width="1" height="7" fill="#000"/>
<rect x="372" y="524" width="3" height="4" fill="#000"/>
<rect x="377" y="506" width="1" height="21" fill="#000"/>
<rect x="376" y="510" width="3" height="16" fill="#000"/>
<rect x="377" y="511" width="1" height="14" fill="#3b6a5a"/>
<rect x="381" y="497" width="1" height="13" fill="#000"/>
<rect x="380" y="506" width="3" height="3" fill="#000"/>
<rect x="381" y="507" width="1" height="1" fill="#3b6a5a"/>
<rect x="385" y="482" width="1" height="28" fill="#000"/>
<rect x="384" y="492" width="3" height="14" fill="#000"/>
<rect x="385" y="493" width="1" height="12" fill="#3b6a5a"/>
<rect x="389" y="480" width="1" height="16" fill="#000"/>
<rect x="388" y="489" width="3" height="7" fill="#000"/>
<rect x="389" y="490" width="1" height="5" fill="#3b6a5a"/>
<rect x="393" y="480" width="1" height="15" fill="#000"/>
<rect x="392" y="487" width="3" height="2" fill="#000"/>
<rect x="397" y="474" width="1" height="16" fill="#000"/>
<rect x="396" y="480" width="3" height="9" fill="#000"/>
<rect x="397" y="481" width="1" height="7" fill="#3b6a5a"/>
<rect x="401" y="460" width="1" height="28" fill="#000"/>
<rect x="400" y="473" width="3" height="7" fill="#000"/>
<rect x="401" y="474" width="1" height="5" fill="#3b6a5a"/>
<rect x="405" y="470" width="1" height="32" fill="#000"/>
<rect x="404" y="473" width="3" height="27" fill="#000"/>
<rect x="405" y="474" width="1" height="25" fill="#86404a"/>
<rect x="409" y="492" width="1" height="12" fill="#000"/>
<rect x="408" y="496" width="3" height="4" fill="#000"/>
<rect x="409" y="497" width="1" height="2" fill="#3b6a5a"/>
<rect x="413" y="465" width="1" height="33" fill="#000"/>
<rect x="412" y="467" width="3" height="31" fill="#000"/>
<rect x="413" y="468" width="1" height="29" fill="#3b6a5a"/>
<rect x="417" y="455" width="1" height="12" fill="#000"/>
<rect x="416" y="462" width="3" height="4" fill="#000"/>
<rect x="421" y="464" width="1" height="19" fill="#000"/>
<rect x="420" y="465" width="3" height="13" fill="#000"/>
<rect x="421" y="466" width="1" height="11" fill="#86404a"/>
<rect x="425" y="466" width="1" height="21" fill="#000"/>
<rect x="424" y="468" width="3" height="10" fill="#000"/>
<rect x="425" y="469" width="1" height="8" fill="#3b6a5a"/>
<rect x="429" y="462" width="1" height="16" fill="#000"/>
<rect x="428" y="466" width="3" height="4" fill="#000"/>
<rect x="429" y="467" width="1" height="2" fill="#86404a"/>
<rect x="432" y="468" width="1" height="27" fill="#000"/>
<rect x="431" y="471" width="3" height="15" fill="#000"/>
<rect x="432" y="472" width="1" height="13" fill="#86404a"/>
<rect x="436" y="463" width="1" height="23" fill="#000"/>
<rect x="435" y="476" width="3" height="10" fill="#000"/>
<rect x="436" y="477" width="1" height="8" fill="#3b6a5a"/>
<rect x="440" y="480" width="1" height="26" fill="#000"/>
<rect x="439" y="481" width="3" height="15" fill="#000"/>
<rect x="440" y="482" width="1" height="13" fill="#86404a"/>
<rect x="444" y="481" width="1" height="19" fill="#000"/>
<rect x="443" y="483" width="3" height="9" fill="#000"/>
<rect x="444" y="484" width="1" height="7" fill="#3b6a5a"/>
<rect x="448" y="461" width="1" height="25" fill="#000"/>
<rect x="447" y="470" width="3" height="12" fill="#000"/>
<rect x="448" y="471" width="1" height="10" fill="#3b6a5a"/>
<rect x="452" y="434" width="1" height="33" fill="#000"/>
<rect x="451" y="441" width="3" height="25" fill="#000"/>
<rect x="452" y="442" width="1" height="23" fill="#3b6a5a"/>
<rect x="456" y="430" width="1" height="20" fill="#000"/>
<rect x="455" y="434" width="3" height="14" fill="#000"/>
<rect x="456" y="435" width="1" height="12" fill="#86404a"/>
<rect x="460" y="432" width="1" height="32" fill="#000"/>
<rect x="459" y="441" width="3" height="1" fill="#000"/>
<rect x="464" y="424" width="1" height="24" fill="#000"/>
<rect x="463" y="427" width="3" height="13" fill="#000"/>
<rect x="464" y="428" width="1" height="11" fill="#3b6a5a"/>
<rect x="468" y="422" width="1" height="16" fill="#000"/>
<rect x="467" y="430" width="3" height="1" fill="#000"/>
<rect x="472" y="430" width="1" height="20" fill="#000"/>
<rect x="471" y="434" width="3" height="4" fill="#000"/>
<rect x="472" y="435" width="1" height="2" fill="#86404a"/>
<rect x="476" y="424" width="1" height="26" fill="#000"/>
<rect x="475" y="437" width="3" height="7" fill="#000"/>
<rect x="476" y="438" width="1" height="5" fill="#86404a"/>
<rect x="480" y="434" width="1" height="20" fill="#000"/>
<rect x="479" y="441" width="3" height="9" fill="#000"/>
<rect x="480" y="442" width="1" height="7" fill="#3b6a5a"/>
<rect x="484" y="437" width="1" height="26" fill="#000"/>
<rect x="483" y="441" width="3" height="5" fill="#000"/>
<rect x="484" y="442" width="1" height="3" fill="#86404a"/>
<rect x="488" y="431" width="1" height="27" fill="#000"/>
<rect x="487" y="434" width="3" height="15" fill="#000"/>
<rect x="488" y="435" width="1" height="13" fill="#3b6a5a"/>
<rect x="492" y="428" width="1" height="13" fill="#000"/>
<rect x="491" y="434" width="3" height="1" fill="#000"/>
<rect x="496" y="395" width="1" height="43" fill="#000"/>
<rect x="495" y="428" width="3" height="4" fill="#000"/>
<rect x="496" y="429" width="1" height="2" fill="#86404a"/>
<rect x="500" y="416" width="1" height="25" fill="#000"/>
<rect x="499" y="418" width="3" height="19" fill="#000"/>
<rect x="500" y="419" width="1" height="17" fill="#3b6a5a"/>
<rect x="504" y="411" width="1" height="19" fill="#000"/>
<rect x="503" y="417" width="3" height="10" fill="#000"/>
<rect x="504" y="418" width="1" height="8" fill="#86404a"/>
<rect x="508" y="407" width="1" height="19" fill="#000"/>
<rect x="507" y="414" width="3" height="10" fill="#000"/>
<rect x="508" y="415" width="1" height="8" fill="#3b6a5a"/>
<rect x="512" y="415" width="1" height="17" fill="#000"/>
<rect x="511" y="416" width="3" height="13" fill="#000"/>
<rect x="512" y="417" width="1" height="11" fill="#86404a"/>
<rect x="515" y="426" width="1" height="18" fill="#000"/>
<rect x="514" y="432" width="3" height="8" fill="#000"/>
<rect x="515" y="433" width="1" height="6" fill="#86404a"/>
<rect x="519" y="434" width="1" height="30" fill="#000"/>
<rect x="518" y="434" width="3" height="25" fill="#000"/>
<rect x="519" y="435" width="1" height="23" fill="#86404a"/>
<rect x="523" y="446" width="1" height="14" fill="#000"/>
<rect x="522" y="447" width="3" height="6" fill="#000"/>
<rect x="523" y="448" width="1" height="4" fill="#3b6a5a"/>
<rect x="527" y="440" width="1" height="20" fill="#000"/>
<rect x="526" y="440" width="3" height="13" fill="#000"/>
<rect x="527" y="441" width="1" height="11" fill="#86404a"/>
<rect x="531" y="456" width="1" height="14" fill="#000"/>
<rect x="530" y="457" width="3" height="12" fill="#000"/>
<rect x="531" y="458" width="1" height="10" fill="#86404a"/>
<rect x="535" y="441" width="1" height="22" fill="#000"/>
<rect x="534" y="446" width="3" height="16" fill="#000"/>
<rect x="535" y="447" width="1" height="14" fill="#3b6a5a"/>
<rect x="539" y="438" width="1" height="16" fill="#000"/>
<rect x="538" y="444" width="3" height="3" fill="#000"/>
<rect x="539" y="445" width="1" height="1" fill="#3b6a5a"/>
<rect x="543" y="420" width="1" height="24" fill="#000"/>
<rect x="542" y="424" width="3" height="17" fill="#000"/>
<rect x="543" y="425" width="1" height="15" fill="#3b6a5a"/>
<rect x="547" y="418" width="1" height="12" fill="#000"/>
<rect x="546" y="419" width="3" height="3" fill="#000"/>
<rect x="547" y="420" width="1" height="1" fill="#3b6a5a"/>
<rect x="551" y="420" width="1" height="20" fill="#000"/>
<rect x="550" y="421" width="3" height="13" fill="#000"/>
<rect x="551" y="422" width="1" height="11" fill="#86404a"/>
<rect x="555" y="424" width="1" height="22" fill="#000"/>
<rect x="554" y="428" width="3" height="12" fill="#000"/>
<rect x="555" y="429" width="1" height="10" fill="#86404a"/>
<rect x="559" y="416" width="1" height="33" fill="#000"/>
<rect x="558" y="424" width="3" height="18" fill="#000"/>
<rect x="559" y="425" width="1" height="16" fill="#3b6a5a"/>
<rect x="563" y="406" width="1" height="17" fill="#000"/>
<rect x="562" y="408" width="3" height="11" fill="#000"/>
<rect x="563" y="409" width="1" height="9" fill="#3b6a5a"/>
<rect x="567" y="384" width="1" height="32" fill="#000"/>
<rect x="566" y="393" width="3" height="17" fill="#000"/>
<rect x="567" y="394" width="1" height="15" fill="#3b6a5a"/>
<rect x="571" y="380" width="1" height="16" fill="#000"/>
<rect x="570" y="388" width="3" height="2" fill="#000"/>
<rect x="575" y="390" width="1" height="12" fill="#000"/>
<rect x="574" y="390" width="3" height="3" fill="#000"/>
<rect x="575" y="391" width="1" height="1" fill="#3b6a5a"/>
<rect x="579" y="375" width="1" height="18" fill="#000"/>
<rect x="578" y="380" width="3" height="12" fill="#000"/>
<rect x="579" y="381" width="1" height="10" fill="#3b6a5a"/>
<rect x="583" y="380" width="1" height="19" fill="#000"/>
<rect x="582" y="385" width="3" height="13" fill="#000"/>
<rect x="583" y="386" width="1" height="11" fill="#86404a"/>
<rect x="587" y="388" width="1" height="23" fill="#000"/>
<rect x="586" y="390" width="3" height="12" fill="#000"/>
<rect x="587" y="391" width="1" height="10" fill="#86404a"/>
<rect x="590" y="398" width="1" height="25" fill="#000"/>
<rect x="589" y="399" width="3" height="17" fill="#000"/>
<rect x="590" y="400" width="1" height="15" fill="#86404a"/>
<rect x="594" y="412" width="1" height="6" fill="#000"/>
<rect x="593" y="414" width="3" height="2" fill="#000"/>
<rect x="598" y="392" width="1" height="24" fill="#000"/>
<rect x="597" y="397" width="3" height="18" fill="#000"/>
<rect x="598" y="398" width="1" height="16" fill="#3b6a5a"/>
<rect x="602" y="389" width="1" height="11" fill="#000"/>
<rect x="601" y="396" width="3" height="2" fill="#000"/>
<rect x="606" y="364" width="1" height="34" fill="#000"/>
<rect x="605" y="373" width="3" height="24" fill="#000"/>
<rect x="606" y="374" width="1" height="22" fill="#3b6a5a"/>
<rect x="610" y="362" width="1" height="19" fill="#000"/>
<rect x="609" y="367" width="3" height="13" fill="#000"/>
<rect x="610" y="368" width="1" height="11" fill="#86404a"/>
<rect x="614" y="372" width="1" height="24" fill="#000"/>
<rect x="613" y="380" width="3" height="6" fill="#000"/>
<rect x="614" y="381" width="1" height="4" fill="#86404a"/>
<rect x="618" y="377" width="1" height="19" fill="#000"/>
<rect x="617" y="381" width="3" height="12" fill="#000"/>
<rect x="618" y="382" width="1" height="10" fill="#86404a"/>
<rect x="622" y="371" width="1" height="23" fill="#000"/>
<rect x="621" y="384" width="3" height="9" fill="#000"/>
<rect x="622" y="385" width="1" height="7" fill="#3b6a5a"/>
<rect x="626" y="376" width="1" height="86" fill="#000"/>
<rect x="625" y="376" width="3" height="80" fill="#000"/>
<rect x="626" y="377" width="1" height="78" fill="#86404a"/>
<rect x="630" y="453" width="1" height="77" fill="#000"/>
<rect x="629" y="457" width="3" height="73" fill="#000"/>
<rect x="630" y="458" width="1" height="71" fill="#86404a"/>
<rect x="634" y="487" width="1" height="85" fill="#000"/>
<rect x="633" y="518" width="3" height="11" fill="#000"/>
<rect x="634" y="519" width="1" height="9" fill="#3b6a5a"/>
<rect x="638" y="494" width="1" height="25" fill="#000"/>
<rect x="637" y="505" width="3" height="13" fill="#000"/>
<rect x="638" y="506" width="1" height="11" fill="#86404a"/>
<rect x="642" y="480" width="1" height="46" fill="#000"/>
<rect x="641" y="496" width="3" height="18" fill="#000"/>
<rect x="642" y="497" width="1" height="16" fill="#3b6a5a"/>
<rect x="646" y="474" width="1" height="20" fill="#000"/>
<rect x="645" y="480" width="3" height="8" fill="#000"/>
<rect x="646" y="481" width="1" height="6" fill="#86404a"/>
<rect x="650" y="450" width="1" height="34" fill="#000"/>
<rect x="649" y="457" width="3" height="25" fill="#000"/>
<rect x="650" y="458" width="1" height="23" fill="#3b6a5a"/>
<rect x="654" y="444" width="1" height="18" fill="#000"/>
<rect x="653" y="448" width="3" height="2" fill="#000"/>
<rect x="658" y="443" width="1" height="10" fill="#000"/>
<rect x="657" y="446" width="3" height="2" fill="#000"/>
<rect x="662" y="423" width="1" height="26" fill="#000"/>
<rect x="661" y="430" width="3" height="17" fill="#000"/>
<rect x="662" y="431" width="1" height="15" fill="#3b6a5a"/>
<rect x="666" y="430" width="1" height="22" fill="#000"/>
<rect x="665" y="434" width="3" height="9" fill="#000"/>
<rect x="666" y="435" width="1" height="7" fill="#86404a"/>
<rect x="670" y="425" width="1" height="19" fill="#000"/>
<rect x="669" y="441" width="3" height="2" fill="#000"/>
<rect x="673" y="424" width="1" height="23" fill="#000"/>
<rect x="672" y="431" width="3" height="8" fill="#000"/>
<rect x="673" y="432" width="1" height="6" fill="#3b6a5a"/>
<rect x="677" y="410" width="1" height="42" fill="#000"/>
<rect x="676" y="414" width="3" height="30" fill="#000"/>
<rect x="677" y="415" width="1" height="28" fill="#3b6a5a"/>
<rect x="681" y="410" width="1" height="14" fill="#000"/>
<rect x="680" y="413" width="3" height="3" fill="#000"/>
<rect x="681" y="414" width="1" height="1" fill="#3b6a5a"/>
<rect x="685" y="410" width="1" height="25" fill="#000"/>
<rect x="684" y="413" width="3" height="16" fill="#000"/>
<rect x="685" y="414" width="1" height="14" fill="#86404a"/>
<rect x="689" y="424" width="1" height="15" fill="#000"/>
<rect x="688" y="426" width="3" height="1" fill="#000"/>
<rect x="693" y="406" width="1" height="19" fill="#000"/>
<rect x="692" y="413" width="3" height="5" fill="#000"/>
<rect x="693" y="414" width="1" height="3" fill="#3b6a5a"/>
<rect x="697" y="420" width="1" height="24" fill="#000"/>
<rect x="696" y="423" width="3" height="11" fill="#000"/>
<rect x="697" y="424" width="1" height="9" fill="#86404a"/>
<rect x="701" y="432" width="1" height="26" fill="#000"/>
<rect x="700" y="433" width="3" height="9" fill="#000"/>
<rect x="701" y="434" width="1" height="7" fill="#86404a"/>
<rect x="705" y="430" width="1" height="20" fill="#000"/>
<rect x="704" y="438" width="3" height="11" fill="#000"/>
<rect x="705" y="439" width="1" height="9" fill="#86404a"/>
<rect x="709" y="431" width="1" height="19" fill="#000"/>
<rect x="708" y="442" width="3" height="8" fill="#000"/>
<rect x="709" y="443" width="1" height="6" fill="#3b6a5a"/>
<rect x="713" y="416" width="1" height="22" fill="#000"/>
<rect x="712" y="417" width="3" height="20" fill="#000"/>
<rect x="713" y="418" width="1" height="18" fill="#3b6a5a"/>
<rect x="717" y="414" width="1" height="29" fill="#000"/>
<rect x="716" y="416" width="3" height="19" fill="#000"/>
<rect x="717" y="417" width="1" height="17" fill="#86404a"/>
<rect x="721" y="435" width="1" height="7" fill="#000"/>
<rect x="720" y="438" width="3" height="1" fill="#000"/>
<rect x="725" y="426" width="1" height="19" fill="#000"/>
<rect x="724" y="430" width="3" height="7" fill="#000"/>
<rect x="725" y="431" width="1" height="5" fill="#3b6a5a"/>
<rect x="729" y="423" width="1" height="29" fill="#000"/>
<rect x="728" y="436" width="3" height="1" fill="#000"/>
<rect x="733" y="417" width="1" height="19" fill="#000"/>
<rect x="732" y="425" width="3" height="9" fill="#000"/>
<rect x="733" y="426" width="1" height="7" fill="#3b6a5a"/>
<rect x="737" y="424" width="1" height="24" fill="#000"/>
<rect x="736" y="426" width="3" height="18" fill="#000"/>
<rect x="737" y="427" width="1" height="16" fill="#86404a"/>
<rect x="741" y="434" width="1" height="26" fill="#000"/>
<rect x="740" y="436" width="3" height="8" fill="#000"/>
<rect x="741" y="437" width="1" height="6" fill="#3b6a5a"/>
<rect x="745" y="432" width="1" height="22" fill="#000"/>
<rect x="744" y="433" width="3" height="13" fill="#000"/>
<rect x="745" y="434" width="1" height="11" fill="#86404a"/>
<rect x="748" y="434" width="1" height="10" fill="#000"/>
<rect x="747" y="440" width="3" height="1" fill="#000"/>
<rect x="752" y="420" width="1" height="28" fill="#000"/>
<rect x="751" y="422" width="3" height="19" fill="#000"/>
<rect x="752" y="423" width="1" height="17" fill="#3b6a5a"/>
<rect x="756" y="407" width="1" height="18" fill="#000"/>
<rect x="755" y="410" width="3" height="12" fill="#000"/>
<rect x="756" y="411" width="1" height="10" fill="#3b6a5a"/>
<rect x="760" y="404" width="1" height="30" fill="#000"/>
<rect x="759" y="413" width="3" height="12" fill="#000"/>
<rect x="760" y="414" width="1" height="10" fill="#86404a"/>
<rect x="764" y="410" width="1" height="15" fill="#000"/>
<rect x="763" y="412" width="3" height="11" fill="#000"/>
<rect x="764" y="413" width="1" height="9" fill="#3b6a5a"/>
<rect x="768" y="408" width="1" height="22" fill="#000"/>
<rect x="767" y="412" width="3" height="8" fill="#000"/>
<rect x="768" y="413" width="1" height="6" fill="#86404a"/>
<rect x="772" y="414" width="1" height="13" fill="#000"/>
<rect x="771" y="418" width="3" height="7" fill="#000"/>
<rect x="772" y="419" width="1" height="5" fill="#86404a"/>
<rect x="776" y="411" width="1" height="21" fill="#000"/>
<rect x="775" y="417" width="3" height="9" fill="#000"/>
<rect x="776" y="418" width="1" height="7" fill="#3b6a5a"/>
<rect x="780" y="416" width="1" height="15" fill="#000"/>
<rect x="779" y="416" width="3" height="9" fill="#000"/>
<rect x="780" y="417" width="1" height="7" fill="#86404a"/>
<rect x="784" y="377" width="1" height="49" fill="#000"/>
<rect x="783" y="383" width="3" height="42" fill="#000"/>
<rect x="784" y="384" width="1" height="40" fill="#3b6a5a"/>
<rect x="788" y="377" width="1" height="19" fill="#000"/>
<rect x="787" y="378" width="3" height="8" fill="#000"/>
<rect x="788" y="379" width="1" height="6" fill="#86404a"/>
<rect x="792" y="384" width="1" height="7" fill="#000"/>
<rect x="791" y="387" width="3" height="1" fill="#000"/>
<rect x="796" y="342" width="1" height="43" fill="#000"/>
<rect x="795" y="354" width="3" height="30" fill="#000"/>
<rect x="796" y="355" width="1" height="28" fill="#3b6a5a"/>
<rect x="800" y="342" width="1" height="12" fill="#000"/>
<rect x="799" y="345" width="3" height="9" fill="#000"/>
<rect x="800" y="346" width="1" height="7" fill="#3b6a5a"/>
<rect x="804" y="321" width="1" height="25" fill="#000"/>
<rect x="803" y="328" width="3" height="17" fill="#000"/>
<rect x="804" y="329" width="1" height="15" fill="#3b6a5a"/>
<rect x="808" y="322" width="1" height="14" fill="#000"/>
<rect x="807" y="324" width="3" height="8" fill="#000"/>
<rect x="808" y="325" width="1" height="6" fill="#86404a"/>
<rect x="812" y="329" width="1" height="15" fill="#000"/>
<rect x="811" y="331" width="3" height="11" fill="#000"/>
<rect x="812" y="332" width="1" height="9" fill="#86404a"/>
<rect x="816" y="336" width="1" height="24" fill="#000"/>
<rect x="815" y="339" width="3" height="1" fill="#000"/>
<rect x="820" y="328" width="1" height="20" fill="#000"/>
<rect x="819" y="338" width="3" height="2" fill="#000"/>
<rect x="824" y="332" width="1" height="13" fill="#000"/>
<rect x="823" y="337" width="3" height="1" fill="#000"/>
<rect x="828" y="314" width="1" height="26" fill="#000"/>
<rect x="827" y="318" width="3" height="22" fill="#000"/>
<rect x="828" y="319" width="1" height="20" fill="#3b6a5a"/>
<rect x="831" y="312" width="1" height="20" fill="#000"/>
<rect x="830" y="317" width="3" height="9" fill="#000"/>
<rect x="831" y="318" width="1" height="7" fill="#86404a"/>
<rect x="835" y="328" width="1" height="34" fill="#000"/>
<rect x="834" y="329" width="3" height="19" fill="#000"/>
<rect x="835" y="330" width="1" height="17" fill="#86404a"/>
<rect x="839" y="341" width="1" height="14" fill="#000"/>
<rect x="838" y="344" width="3" height="6" fill="#000"/>
<rect x="839" y="345" width="1" height="4" fill="#3b6a5a"/>
<rect x="843" y="345" width="1" height="25" fill="#000"/>
<rect x="842" y="348" width="3" height="8" fill="#000"/>
<rect x="843" y="349" width="1" height="6" fill="#86404a"/>
<rect x="847" y="342" width="1" height="16" fill="#000"/>
<rect x="846" y="346" width="3" height="6" fill="#000"/>
<rect x="847" y="347" width="1" height="4" fill="#3b6a5a"/>
<rect x="851" y="328" width="1" height="16" fill="#000"/>
<rect x="850" y="333" width="3" height="11" fill="#000"/>
<rect x="851" y="334" width="1" height="9" fill="#3b6a5a"/>
<rect x="855" y="324" width="1" height="18" fill="#000"/>
<rect x="854" y="325" width="3" height="15" fill="#000"/>
<rect x="855" y="326" width="1" height="13" fill="#86404a"/>
<rect x="859" y="338" width="1" height="22" fill="#000"/>
<rect x="858" y="344" width="3" height="1" fill="#000"/>
<rect x="863" y="326" width="1" height="21" fill="#000"/>
<rect x="862" y="338" width="3" height="2" fill="#000"/>
<rect x="867" y="328" width="1" height="19" fill="#000"/>
<rect x="866" y="329" width="3" height="13" fill="#000"/>
<rect x="867" y="330" width="1" height="11" fill="#3b6a5a"/>
<rect x="871" y="315" width="1" height="19" fill="#000"/>
<rect x="870" y="320" width="3" height="9" fill="#000"/>
<rect x="871" y="321" width="1" height="7" fill="#3b6a5a"/>
<rect x="875" y="312" width="1" height="28" fill="#000"/>
<rect x="874" y="318" width="3" height="8" fill="#000"/>
<rect x="875" y="319" width="1" height="6" fill="#86404a"/>
<rect x="879" y="321" width="1" height="16" fill="#000"/>
<rect x="878" y="323" width="3" height="7" fill="#000"/>
<rect x="879" y="324" width="1" height="5" fill="#86404a"/>
<rect x="883" y="322" width="1" height="12" fill="#000"/>
<rect x="882" y="324" width="3" height="9" fill="#000"/>
<rect x="883" y="325" width="1" height="7" fill="#86404a"/>
<rect x="887" y="304" width="1" height="30" fill="#000"/>
<rect x="886" y="314" width="3" height="20" fill="#000"/>
<rect x="887" y="315" width="1" height="18" fill="#3b6a5a"/>
<rect x="891" y="263" width="1" height="46" fill="#000"/>
<rect x="890" y="271" width="3" height="35" fill="#000"/>
<rect x="891" y="272" width="1" height="33" fill="#3b6a5a"/>
<rect x="895" y="254" width="1" height="32" fill="#000"/>
<rect x="894" y="266" width="3" height="10" fill="#000"/>
<rect x="895" y="267" width="1" height="8" fill="#86404a"/>
<rect x="899" y="276" width="1" height="23" fill="#000"/>
<rect x="898" y="286" width="3" height="8" fill="#000"/>
<rect x="899" y="287" width="1" height="6" fill="#86404a"/>
<rect x="903" y="287" width="1" height="15" fill="#000"/>
<rect x="902" y="293" width="3" height="4" fill="#000"/>
<rect x="903" y="294" width="1" height="2" fill="#86404a"/>
<rect x="906" y="286" width="1" height="18" fill="#000"/>
<rect x="905" y="288" width="3" height="4" fill="#000"/>
<rect x="906" y="289" width="1" height="2" fill="#3b6a5a"/>
<rect x="910" y="274" width="1" height="13" fill="#000"/>
<rect x="909" y="284" width="3" height="2" fill="#000"/>
<rect x="914" y="262" width="1" height="24" fill="#000"/>
<rect x="913" y="261" width="3" height="25" fill="#000"/>
<rect x="914" y="262" width="1" height="23" fill="#3b6a5a"/>
<rect x="918" y="251" width="1" height="18" fill="#000"/>
<rect x="917" y="255" width="3" height="9" fill="#000"/>
<rect x="918" y="256" width="1" height="7" fill="#3b6a5a"/>
<rect x="922" y="246" width="1" height="14" fill="#000"/>
<rect x="921" y="252" width="3" height="4" fill="#000"/>
<rect x="922" y="253" width="1" height="2" fill="#3b6a5a"/>
<rect x="926" y="252" width="1" height="18" fill="#000"/>
<rect x="925" y="255" width="3" height="8" fill="#000"/>
<rect x="926" y="256" width="1" height="6" fill="#86404a"/>
<rect x="930" y="256" width="1" height="36" fill="#000"/>
<rect x="929" y="262" width="3" height="25" fill="#000"/>
<rect x="930" y="263" width="1" height="23" fill="#86404a"/>
<rect x="934" y="283" width="1" height="11" fill="#000"/>
<rect x="933" y="288" width="3" height="2" fill="#000"/>
<rect x="938" y="284" width="1" height="13" fill="#000"/>
<rect x="937" y="287" width="3" height="1" fill="#000"/>
<rect x="942" y="285" width="1" height="41" fill="#000"/>
<rect x="941" y="286" width="3" height="18" fill="#000"/>
<rect x="942" y="287" width="1" height="16" fill="#86404a"/>
<rect x="946" y="316" width="1" height="24" fill="#000"/>
<rect x="945" y="318" width="3" height="13" fill="#000"/>
<rect x="946" y="319" width="1" height="11" fill="#86404a"/>
<rect x="950" y="316" width="1" height="21" fill="#000"/>
<rect x="949" y="324" width="3" height="4" fill="#000"/>
<rect x="950" y="325" width="1" height="2" fill="#3b6a5a"/>
<rect x="954" y="310" width="1" height="19" fill="#000"/>
<rect x="953" y="314" width="3" height="6" fill="#000"/>
<rect x="954" y="315" width="1" height="4" fill="#3b6a5a"/>
<rect x="958" y="298" width="1" height="16" fill="#000"/>
<rect x="957" y="301" width="3" height="11" fill="#000"/>
<rect x="958" y="302" width="1" height="9" fill="#3b6a5a"/>
<rect x="962" y="296" width="1" height="10" fill="#000"/>
<rect x="961" y="298" width="3" height="2" fill="#000"/>
<rect x="966" y="276" width="1" height="24" fill="#000"/>
<rect x="965" y="288" width="3" height="11" fill="#000"/>
<rect x="966" y="289" width="1" height="9" fill="#3b6a5a"/>
<rect x="970" y="273" width="1" height="17" fill="#000"/>
<rect x="969" y="280" width="3" height="2" fill="#000"/>
<rect x="974" y="281" width="1" height="25" fill="#000"/>
<rect x="973" y="282" width="3" height="20" fill="#000"/>
<rect x="974" y="283" width="1" height="18" fill="#86404a"/>
<rect x="978" y="293" width="1" height="16" fill="#000"/>
<rect x="977" y="296" width="3" height="10" fill="#000"/>
<rect x="978" y="297" width="1" height="8" fill="#3b6a5a"/>
<rect x="982" y="278" width="1" height="21" fill="#000"/>
<rect x="981" y="280" width="3" height="18" fill="#000"/>
<rect x="982" y="281" width="1" height="16" fill="#3b6a5a"/>
<rect x="986" y="276" width="1" height="22" fill="#000"/>
<rect x="985" y="281" width="3" height="13" fill="#000"/>
<rect x="986" y="282" width="1" height="11" fill="#86404a"/>
<rect x="989" y="292" width="1" height="10" fill="#000"/>
<rect x="988" y="296" width="3" height="1" fill="#000"/>
<rect x="993" y="287" width="1" height="14" fill="#000"/>
<rect x="992" y="294" width="3" height="4" fill="#000"/>
<rect x="997" y="292" width="1" height="24" fill="#000"/>
<rect x="996" y="294" width="3" height="20" fill="#000"/>
<rect x="997" y="295" width="1" height="18" fill="#86404a"/>
<rect x="1001" y="299" width="1" height="23" fill="#000"/>
<rect x="1000" y="302" width="3" height="12" fill="#000"/>
<rect x="1001" y="303" width="1" height="10" fill="#3b6a5a"/>
<rect x="1005" y="290" width="1" height="18" fill="#000"/>
<rect x="1004" y="294" width="3" height="6" fill="#000"/>
<rect x="1005" y="295" width="1" height="4" fill="#3b6a5a"/>
<rect x="1009" y="265" width="1" height="39" fill="#000"/>
<rect x="1008" y="268" width="3" height="24" fill="#000"/>
<rect x="1009" y="269" width="1" height="22" fill="#3b6a5a"/>
<rect x="1013" y="270" width="1" height="11" fill="#000"/>
<rect x="1012" y="271" width="3" height="7" fill="#000"/>
<rect x="1013" y="272" width="1" height="5" fill="#86404a"/>
<rect x="1017" y="274" width="1" height="13" fill="#000"/>
<rect x="1016" y="280" width="3" height="2" fill="#000"/>
<rect x="1021" y="276" width="1" height="14" fill="#000"/>
<rect x="1020" y="278" width="3" height="8" fill="#000"/>
<rect x="1021" y="279" width="1" height="6" fill="#3b6a5a"/>
<rect x="1025" y="250" width="1" height="17" fill="#000"/>
<rect x="1024" y="251" width="3" height="15" fill="#000"/>
<rect x="1025" y="252" width="1" height="13" fill="#3b6a5a"/>
<rect x="1029" y="221" width="1" height="39" fill="#000"/>
<rect x="1028" y="224" width="3" height="28" fill="#000"/>
<rect x="1029" y="225" width="1" height="26" fill="#3b6a5a"/>
<rect x="1033" y="191" width="1" height="37" fill="#000"/>
<rect x="1032" y="201" width="3" height="24" fill="#000"/>
<rect x="1033" y="202" width="1" height="22" fill="#3b6a5a"/>
<rect x="1037" y="184" width="1" height="16" fill="#000"/>
<rect x="1036" y="190" width="3" height="7" fill="#000"/>
<rect x="1037" y="191" width="1" height="5" fill="#3b6a5a"/>
<rect x="1041" y="194" width="1" height="20" fill="#000"/>
<rect x="1040" y="196" width="3" height="10" fill="#000"/>
<rect x="1041" y="197" width="1" height="8" fill="#86404a"/>
<rect x="1045" y="188" width="1" height="24" fill="#000"/>
<rect x="1044" y="202" width="3" height="7" fill="#000"/>
<rect x="1045" y="203" width="1" height="5" fill="#3b6a5a"/>
<rect x="1049" y="186" width="1" height="22" fill="#000"/>
<rect x="1048" y="193" width="3" height="12" fill="#000"/>
<rect x="1049" y="194" width="1" height="10" fill="#3b6a5a"/>
<rect x="1053" y="189" width="1" height="21" fill="#000"/>
<rect x="1052" y="192" width="3" height="16" fill="#000"/>
<rect x="1053" y="193" width="1" height="14" fill="#86404a"/>
<rect x="1057" y="199" width="1" height="13" fill="#000"/>
<rect x="1056" y="201" width="3" height="8" fill="#000"/>
<rect x="1057" y="202" width="1" height="6" fill="#3b6a5a"/>
<rect x="1061" y="184" width="1" height="17" fill="#000"/>
<rect x="1060" y="187" width="3" height="13" fill="#000"/>
<rect x="1061" y="188" width="1" height="11" fill="#3b6a5a"/>
<rect x="1064" y="162" width="1" height="29" fill="#000"/>
<rect x="1063" y="168" width="3" height="22" fill="#000"/>
<rect x="1064" y="169" width="1" height="20" fill="#3b6a5a"/>
<rect x="1068" y="158" width="1" height="20" fill="#000"/>
<rect x="1067" y="166" width="3" height="5" fill="#000"/>
<rect x="1068" y="167" width="1" height="3" fill="#3b6a5a"/>
<rect x="1072" y="152" width="1" height="21" fill="#000"/>
<rect x="1071" y="158" width="3" height="8" fill="#000"/>
<rect x="1072" y="159" width="1" height="6" fill="#86404a"/>
<rect x="1076" y="165" width="1" height="37" fill="#000"/>
<rect x="1075" y="166" width="3" height="20" fill="#000"/>
<rect x="1076" y="167" width="1" height="18" fill="#86404a"/>
<rect x="1080" y="184" width="1" height="18" fill="#000"/>
<rect x="1079" y="188" width="3" height="2" fill="#000"/>
<rect x="1084" y="154" width="1" height="37" fill="#000"/>
<rect x="1083" y="165" width="3" height="24" fill="#000"/>
<rect x="1084" y="166" width="1" height="22" fill="#3b6a5a"/>
<rect x="1088" y="128" width="1" height="26" fill="#000"/>
<rect x="1087" y="132" width="3" height="21" fill="#000"/>
<rect x="1088" y="133" width="1" height="19" fill="#3b6a5a"/>
<rect x="1092" y="117" width="1" height="21" fill="#000"/>
<rect x="1091" y="121" width="3" height="9" fill="#000"/>
<rect x="1092" y="122" width="1" height="7" fill="#3b6a5a"/>
<rect x="1096" y="121" width="1" height="19" fill="#000"/>
<rect x="1095" y="130" width="3" height="2" fill="#000"/>
<rect x="1100" y="101" width="1" height="35" fill="#000"/>
<rect x="1099" y="115" width="3" height="20" fill="#000"/>
<rect x="1100" y="116" width="1" height="18" fill="#3b6a5a"/>
<path d="M1020.8 286.6L1036.2 181.5L1072.8 189.5M1033.6 210.6L1068.3 217.9" stroke="#111" stroke-width="2" fill="none"/>
<path d="M1051.6 142.1L1143.8 140.9" stroke="#111" stroke-width="2" fill="none"/>
</g>
</svg>
<svg style="position:absolute;left:0;top:0" width="1297" height="736" font-family="Liberation Sans">
<text x="1226.5" y="89.3" font-size="12" fill="#131722" text-anchor="end">46.000</text>
<text x="1226.5" y="142.1" font-size="12" fill="#131722" text-anchor="end">44.000</text>
<text x="1226.5" y="300.5" font-size="12" fill="#131722" text-anchor="end">38.000</text>
<text x="1226.5" y="353.3" font-size="12" fill="#131722" text-anchor="end">36.000</text>
<text x="1226.5" y="406.1" font-size="12" fill="#131722" text-anchor="end">34.000</text>
<text x="1226.5" y="458.9" font-size="12" fill="#131722" text-anchor="end">32.000</text>
<text x="1226.5" y="511.7" font-size="12" fill="#131722" text-anchor="end">30.000</text>
<text x="1226.5" y="564.5" font-size="12" fill="#131722" text-anchor="end">28.000</text>
<text x="1226.5" y="617.3" font-size="12" fill="#131722" text-anchor="end">26.000</text>
<rect x="1183.0" y="182.2" width="49.0" height="16.5" rx="2" fill="#2a5fe3"/>
<text x="1226.5" y="194.8" font-size="12" fill="#fff" text-anchor="end" font-weight="bold">42.000</text>
<rect x="1183.0" y="225.9" width="49.0" height="16.5" rx="2" fill="#f0364a"/>
<text x="1226.5" y="238.5" font-size="12" fill="#fff" text-anchor="end" font-weight="bold">40.323</text>
<rect x="1183.0" y="243.2" width="49.0" height="16.5" rx="2" fill="#2a5fe3"/>
<text x="1226.5" y="255.7" font-size="12" fill="#fff" text-anchor="end" font-weight="bold">40.000</text>
<rect x="1183.0" y="347.1" width="49.0" height="16.5" rx="2" fill="#2b26dc"/>
<text x="1226.5" y="359.6" font-size="12" fill="#fff" text-anchor="end" font-weight="bold">35.770</text>
<rect x="1183.0" y="550.1" width="51.7" height="16.5" rx="2" fill="#26a197"/>
<text x="1226.5" y="562.7" font-size="12" fill="#fff" text-anchor="end" font-weight="bold">72.28 K</text>
<rect x="1183" y="107" width="60" height="31" rx="2" fill="#109a82"/>
<text x="1190.5" y="120" font-size="12" font-weight="bold" fill="#fff">44.855</text>
<text x="1190.5" y="134" font-size="12" font-weight="bold" fill="#fff">06:25:21</text>
</svg>
<svg style="position:absolute;left:0;top:0" width="52" height="736">
<rect x="9.5" y="50.3" width="33.5" height="33.2" rx="6" fill="#ebebeb"/>
<path d="M19.5 59.8l10.6 6.6-4.6 1.2 3.2 5.6-2.2 1.2-3.2-5.6-3.6 3.2z" stroke="#131722" fill="none" stroke-width="1.1" stroke-linecap="round" stroke-linejoin="round"/>
<path d="M18.3 112.2l14.9-14.4" stroke="#131722" fill="none" stroke-width="1.1" stroke-linecap="round" stroke-linejoin="round"/>
<circle cx="17" cy="113.5" r="2" stroke="#131722" fill="none" stroke-width="1.1" stroke-linecap="round" stroke-linejoin="round"/><circle cx="34.5" cy="96.5" r="2" stroke="#131722" fill="none" stroke-width="1.1" stroke-linecap="round" stroke-linejoin="round"/>
<path d="M15 132.8h22M15 139h20M15 145.3h22M18 151.5h19" stroke="#131722" fill="none" stroke-width="1.1" stroke-linecap="round" stroke-linejoin="round"/>
<circle cx="37" cy="139" r="2" fill="#fff" stroke="#131722"  stroke-width="1.1" stroke-linecap="round" stroke-linejoin="round"/><circle cx="15.5" cy="151.5" r="2" fill="#fff" stroke="#131722"  stroke-width="1.1" stroke-linecap="round" stroke-linejoin="round"/>
<path d="M17 189L20 172L25 179.5L32.5 172.8L35.5 186.5L25 179.5L17 189" stroke="#131722" fill="none" stroke-width="1.1" stroke-linecap="round" stroke-linejoin="round"/>
<circle cx="20.0" cy="172.0" r="2" fill="#fff" stroke="#131722" stroke-width="1.1"/>
<circle cx="32.5" cy="172.8" r="2" fill="#fff" stroke="#131722" stroke-width="1.1"/>
<circle cx="25.0" cy="179.5" r="2" fill="#fff" stroke="#131722" stroke-width="1.1"/>
<circle cx="17.0" cy="189.0" r="2" fill="#fff" stroke="#131722" stroke-width="1.1"/>
<circle cx="35.5" cy="186.5" r="2" fill="#fff" stroke="#131722" stroke-width="1.1"/>
<path d="M18.2 211.3h18M18.2 221.3h14.8M18.2 227h18" stroke="#131722" fill="none" stroke-width="1.1" stroke-linecap="round" stroke-linejoin="round"/>
<path d="M20 218.8l15-5" stroke="#131722" stroke-width="1" stroke-dasharray="1.2 1.6" fill="none"/>
<circle cx="16.3" cy="211.3" r="2" fill="#fff" stroke="#131722" stroke-width="1.1"/>
<circle cx="16.3" cy="221.3" r="2" fill="#fff" stroke="#131722" stroke-width="1.1"/>
<circle cx="16.3" cy="227.0" r="2" fill="#fff" stroke="#131722" stroke-width="1.1"/>
<circle cx="35.0" cy="221.3" r="2" fill="#fff" stroke="#131722" stroke-width="1.1"/>
<path d="M15 265.2c1-5 5-9.5 10-9.8l4 3.5c-1.2 4-6 6.5-14 6.3z" stroke="#131722" fill="none" stroke-width="1.1" stroke-linecap="round" stroke-linejoin="round"/>
<path d="M29.5 255.2c0 -2.5 1-4 2.5-4.2 M31 257.4c2.8 0 5.5 -3 8 -6.8" stroke="#131722" fill="none" stroke-width="1.1" stroke-linecap="round" stroke-linejoin="round"/>
<path d="M19 289.5v-2.8h15v2.8M26.5 286.7v16.8M23.5 303.5h6" stroke="#131722" fill="none" stroke-width="1.1" stroke-linecap="round" stroke-linejoin="round"/>
<circle cx="26" cy="332.5" r="10.8" stroke="#131722" fill="none" stroke-width="1.1" stroke-linecap="round" stroke-linejoin="round"/>
<circle cx="23" cy="330" r="0.9" fill="#131722"/><circle cx="29" cy="330" r="0.9" fill="#131722"/>
<path d="M22.3 335.2c1.8 2.2 5.6 2.2 7.4 0" stroke="#131722" fill="none" stroke-width="1.1" stroke-linecap="round" stroke-linejoin="round"/>
<rect x="8" y="358.0" width="36" height="1" fill="#e6e6e6"/>
<rect x="8" y="447.5" width="36" height="1" fill="#e6e6e6"/>
<rect x="8" y="612.5" width="36" height="1" fill="#e6e6e6"/>
<g transform="translate(26.1 383.8) rotate(-45)"><rect x="-12.6" y="-3.6" width="25.2" height="7.2" rx="0.8" stroke="#131722" fill="none" stroke-width="1.1" stroke-linecap="round" stroke-linejoin="round"/><path d="M-8 -3.6v2.6M-4 -3.6v1.6M0 -3.6v2.6M4 -3.6v1.6M8 -3.6v2.6" stroke="#131722" fill="none" stroke-width="1.1" stroke-linecap="round" stroke-linejoin="round"/></g>
<circle cx="24.5" cy="420.5" r="7.6" stroke="#131722" fill="none" stroke-width="1.1" stroke-linecap="round" stroke-linejoin="round"/>
<path d="M24.5 416.8v7.4M20.8 420.5h7.4M30 426l3.8 3.6" stroke="#131722" fill="none" stroke-width="1.1" stroke-linecap="round" stroke-linejoin="round"/>
<path d="M18.2 481.2v-9.7a7.8 7.8 0 0 1 15.6 0v9.7h-4.4v-9.7a3.4 3.4 0 0 0-6.8 0v9.7z M18.2 477.2h4.4M29.4 477.2h4.4" stroke="#131722" fill="none" stroke-width="1.1" stroke-linecap="round" stroke-linejoin="round"/>
<path d="M15 516.5l0.6-4.2 12-12.2a2 2 0 0 1 2.8 0l0.8 0.8a2 2 0 0 1 0 2.8l-12 12.2z M25.8 502.2l3.6 3.6" stroke="#131722" fill="none" stroke-width="1.1" stroke-linecap="round" stroke-linejoin="round"/>
<rect x="27.6" y="514.5" width="7.8" height="6.8" rx="1" stroke="#131722" fill="none" stroke-width="1.1" stroke-linecap="round" stroke-linejoin="round"/>
<path d="M29.4 514.5v-1.8a2 2 0 0 1 4 0" stroke="#131722" fill="none" stroke-width="1.1" stroke-linecap="round" stroke-linejoin="round"/>
<rect x="18" y="547.5" width="15.8" height="11.3" rx="1.5" stroke="#131722" fill="none" stroke-width="1.1" stroke-linecap="round" stroke-linejoin="round"/>
<path d="M22 547.5v-3.2a4 4 0 0 1 8 -0.6" stroke="#131722" fill="none" stroke-width="1.1" stroke-linecap="round" stroke-linejoin="round"/>
<path d="M26 551.6v2.6" stroke="#131722" stroke-width="1.6" stroke-linecap="round"/>
<path d="M15.5 582.5c4.5-8 14.5-8 19 0c-4.5 8-14.5 8-19 0z" stroke="#131722" fill="none" stroke-width="1.1" stroke-linecap="round" stroke-linejoin="round"/>
<circle cx="25" cy="582.5" r="3.3" stroke="#131722" fill="none" stroke-width="1.1" stroke-linecap="round" stroke-linejoin="round"/>
<path d="M26.5 597.2c0.5-2.5 2.2-3.8 4.5-3.5l1 1c-0.3 2-2.5 2.8-5.5 2.5zM32.2 593.8l4.5-2.6" stroke="#131722" fill="none" stroke-width="1.1" stroke-linecap="round" stroke-linejoin="round"/>
<path d="M17.5 631.2h17M22.5 631v-2.3h7v2.3M19 631.5l1.6 16h10.8l1.6-16" stroke="#131722" fill="none" stroke-width="1.1" stroke-linecap="round" stroke-linejoin="round"/>
</svg>
<svg style="position:absolute;left:1252;top:0;left:1252px" width="45" height="736" viewBox="1252 0 45 736">
<path d="M1265.7 55.5h18.8v22.2l-9.4-4.2-9.4 4.2z" stroke="#131722" fill="none" stroke-width="1.1" stroke-linecap="round" stroke-linejoin="round"/>
<path d="M1269.6 61h11M1269.6 65.3h11M1269.6 69.5h11" stroke="#131722" fill="none" stroke-width="1.1" stroke-linecap="round" stroke-linejoin="round"/>
<circle cx="1274.4" cy="112.6" r="10.4" stroke="#131722" fill="none" stroke-width="1.1" stroke-linecap="round" stroke-linejoin="round"/>
<path d="M1273 106.6v6.2h4.2M1262.6 100.2l3.8-3.6M1286.4 100.2l-3.8-3.6" stroke="#131722" fill="none" stroke-width="1.1" stroke-linecap="round" stroke-linejoin="round"/>
<path d="M1262.7 156l12.3-7 12.3 7-12.3 6.8z M1262.7 160.3l12.3 6.8 12.3-6.8" stroke="#131722" fill="none" stroke-width="1.1" stroke-linecap="round" stroke-linejoin="round"/>
<path d="M1266 194.2h14.5a2 2 0 0 1 2 2v9.5a2 2 0 0 1-2 2h-12.2l-4.3 5.8v-17.3a2 2 0 0 1 2-2z" stroke="#131722" fill="none" stroke-width="1.1" stroke-linecap="round" stroke-linejoin="round"/>
<path d="M1282.5 201.5h2.5a2 2 0 0 1 2 2v13.5l-4.5-4h-8.5a2 2 0 0 1-2-2v-3.2" stroke="#131722" fill="none" stroke-width="1.1" stroke-linecap="round" stroke-linejoin="round"/>
<circle cx="1275" cy="517" r="13.3" stroke="#131722" fill="none" stroke-width="1.1" stroke-linecap="round" stroke-linejoin="round"/>
<circle cx="1275" cy="517" r="7.6" stroke="#131722" fill="none" stroke-width="1.1" stroke-linecap="round" stroke-linejoin="round"/>
<circle cx="1275" cy="517" r="2" fill="#131722"/>
<path d="M1275 517l9.5-9.6" stroke="#131722" fill="none" stroke-width="1.1" stroke-linecap="round" stroke-linejoin="round"/>
<rect x="1263.8" y="553.9" width="22.6" height="20.3" rx="2.5" stroke="#131722" fill="none" stroke-width="1.1" stroke-linecap="round" stroke-linejoin="round"/>
<path d="M1263.8 560h22.6" stroke="#131722" fill="none" stroke-width="1.1" stroke-linecap="round" stroke-linejoin="round"/>
<rect x="1267.5" y="551.2" width="2.6" height="4.6" rx="1.2" fill="#fff" stroke="#131722"  stroke-width="1.1" stroke-linecap="round" stroke-linejoin="round"/>
<rect x="1280" y="551.2" width="2.6" height="4.6" rx="1.2" fill="#fff" stroke="#131722"  stroke-width="1.1" stroke-linecap="round" stroke-linejoin="round"/>
<circle cx="1275" cy="608.5" r="16.8" fill="#262626"/>
<rect x="1266.4" y="600.2" width="3.8" height="3.8" rx="0.6" fill="#fff"/>
<rect x="1273.1" y="600.2" width="3.8" height="3.8" rx="0.6" fill="#fff"/>
<rect x="1279.8" y="600.2" width="3.8" height="3.8" rx="0.6" fill="#fff"/>
<rect x="1266.4" y="606.9" width="3.8" height="3.8" rx="0.6" fill="#fff"/>
<rect x="1273.1" y="606.9" width="3.8" height="3.8" rx="0.6" fill="#fff"/>
<rect x="1279.8" y="606.9" width="3.8" height="3.8" rx="0.6" fill="#fff"/>
<rect x="1266.4" y="613.7" width="3.8" height="3.8" rx="0.6" fill="#fff"/>
<rect x="1273.1" y="613.7" width="3.8" height="3.8" rx="0.6" fill="#fff"/>
<rect x="1279.8" y="613.7" width="3.8" height="3.8" rx="0.6" fill="#fff"/>
<rect x="1257" y="637.5" width="35" height="1" fill="#e6e6e6"/>
<circle cx="1265.5" cy="674" r="1.6" stroke="#131722" fill="none" stroke-width="1.1" stroke-linecap="round" stroke-linejoin="round"/>
<path d="M1264 667a8.5 8.5 0 0 1 9.5 9.3M1264 661a14.5 14.5 0 0 1 15.5 15.3M1264 655a20.5 20.5 0 0 1 21.5 21.3" stroke="#131722" fill="none" stroke-width="1.1" stroke-linecap="round" stroke-linejoin="round"/>
<path d="M1287.8 708.5a13 13 0 1 1 -6 -7.8" stroke="#131722" fill="none" stroke-width="1.1" stroke-linecap="round" stroke-linejoin="round"/>
<path d="M1271.2 709a3.8 3.8 0 1 1 5.4 3.4c-1 0.6-1.6 1.2-1.6 2.6v1" stroke="#131722" fill="none" stroke-width="1.1" stroke-linecap="round" stroke-linejoin="round"/>
<circle cx="1275" cy="719.8" r="1.2" stroke="#131722" fill="none" stroke-width="1.1" stroke-linecap="round" stroke-linejoin="round"/>
<path d="M1286.5 697.5q0.6 2.8 3.2 3.4q-2.6 0.6-3.2 3.4q-0.6-2.8-3.2-3.4q2.6-0.6 3.2-3.4z" stroke="#131722" fill="none" stroke-width="1.1" stroke-linecap="round" stroke-linejoin="round"/>
<path d="M1262 718.3q0.5 2.2 2.5 2.7q-2 0.5-2.5 2.7q-0.5-2.2-2.5-2.7q2-0.5 2.5-2.7z" stroke="#131722" fill="none" stroke-width="1.1" stroke-linecap="round" stroke-linejoin="round"/>
<circle cx="1297" cy="737" r="5" fill="#4f0b38"/>
</svg>
<div style="position:absolute;left:64.2px;top:49.2px;width:39px;height:17px;border-radius:8.5px;overflow:hidden;display:flex"><div style="width:20px;height:17px;background:#d9f2ee"></div><div style="width:19px;height:17px;background:#fee3bd"></div></div>
<svg style="position:absolute;left:0;top:0" width="700" height="170" font-family="Liberation Sans">
<circle cx="74.8" cy="57.8" r="3.8" fill="#11997f"/>
<text x="89.3" y="62.6" font-size="13" fill="#e8940f">D</text>
<text x="112.2" y="62.6" font-size="13" fill="#131722" textLength="48.1" lengthAdjust="spacingAndGlyphs">O44.120</text>
<text x="167.6" y="62.6" font-size="13" fill="#131722" textLength="47.7" lengthAdjust="spacingAndGlyphs">H45.390</text>
<text x="221.0" y="62.6" font-size="13" fill="#131722" textLength="46.2" lengthAdjust="spacingAndGlyphs">L44.060</text>
<text x="274.0" y="62.6" font-size="13" fill="#131722" textLength="47.0" lengthAdjust="spacingAndGlyphs">C44.855</text>
<text x="328.0" y="62.6" font-size="13" fill="#131722" textLength="38.0" lengthAdjust="spacingAndGlyphs">+0.665</text>
<text x="370.6" y="62.6" font-size="13" fill="#131722" textLength="48.4" lengthAdjust="spacingAndGlyphs">(+1.50%)</text>
<text x="65.4" y="86.6" font-size="12.6" fill="#131722" textLength="17.1" lengthAdjust="spacingAndGlyphs">Vol</text>
<text x="91.1" y="86.6" font-size="12.6" fill="#26a69a" textLength="41.1" lengthAdjust="spacingAndGlyphs">72.28 K</text>
<text x="65.4" y="110.5" font-size="12.6" fill="#131722" textLength="23.5" lengthAdjust="spacingAndGlyphs">EMA</text>
<text x="97.1" y="110.5" font-size="12.6" fill="#de5d6d" textLength="38" lengthAdjust="spacingAndGlyphs">40.323</text>
<text x="65.4" y="134.5" font-size="12.6" fill="#131722" textLength="23.5" lengthAdjust="spacingAndGlyphs">EMA</text>
<text x="97.1" y="134.5" font-size="12.6" fill="#4043a8" textLength="38.5" lengthAdjust="spacingAndGlyphs">35.770</text>
<rect x="64.7" y="145.5" width="27.5" height="19.8" rx="2.5" fill="#fff" stroke="#e0e3eb"/>
<path d="M74.5 157.3l4-3.8 4 3.8" stroke="#131722" stroke-width="1.5" fill="none"/>
</svg>
<svg style="position:absolute;left:0;top:0" width="1297" height="736" font-family="Liberation Sans">
<text x="124" y="644.6" font-size="12" fill="#131722" text-anchor="middle">Oct</text>
<text x="214" y="644.6" font-size="12" fill="#131722" text-anchor="middle">Nov</text>
<text x="293" y="644.6" font-size="12" fill="#131722" text-anchor="middle">Dec</text>
<text x="459" y="644.6" font-size="12" fill="#131722" text-anchor="middle">Feb</text>
<text x="534" y="644.6" font-size="12" fill="#131722" text-anchor="middle">Mar</text>
<text x="618" y="644.6" font-size="12" fill="#131722" text-anchor="middle">Apr</text>
<text x="700" y="644.6" font-size="12" fill="#131722" text-anchor="middle">May</text>
<text x="784" y="644.6" font-size="12" fill="#131722" text-anchor="middle">Jun</text>
<text x="862" y="644.6" font-size="12" fill="#131722" text-anchor="middle">Jul</text>
<text x="949" y="644.6" font-size="12" fill="#131722" text-anchor="middle">Aug</text>
<text x="1032" y="644.6" font-size="12" fill="#131722" text-anchor="middle">Sep</text>
<text x="1115" y="644.6" font-size="12" fill="#131722" text-anchor="middle">Oct</text>
<text x="377" y="644.6" font-size="12" font-weight="bold" fill="#131722" text-anchor="middle">2025</text>
<path d="M1212 635.4h7.4l3.7 6.3-3.7 6.3h-7.4l-3.7-6.3z" stroke="#131722" stroke-width="1.1" fill="none" stroke-linejoin="round"/>
<circle cx="1215.7" cy="641.7" r="2.1" stroke="#131722" stroke-width="1.1" fill="none"/>
<rect x="56" y="655" width="1192" height="1" fill="#e0e3eb"/>
<circle cx="287.0" cy="614.5" r="9.6" fill="#fff" stroke="#4f2fa0" stroke-width="1.3"/>
<path d="M281.8 610.9l4.6 3.5h7.2M290.1 611.3l3.2 3.1-3.2 3.1M281.3 618.7l2.6-2.3" stroke="#6a3fd0" stroke-width="1.3" fill="none" stroke-linecap="round" stroke-linejoin="round"/>
<circle cx="527.0" cy="614.5" r="9.6" fill="#fff" stroke="#4f2fa0" stroke-width="1.3"/>
<path d="M521.8 610.9l4.6 3.5h7.2M530.1 611.3l3.2 3.1-3.2 3.1M521.3 618.7l2.6-2.3" stroke="#6a3fd0" stroke-width="1.3" fill="none" stroke-linecap="round" stroke-linejoin="round"/>
<circle cx="693.0" cy="614.5" r="9.6" fill="#fff" stroke="#4f2fa0" stroke-width="1.3"/>
<path d="M687.8 610.9l4.6 3.5h7.2M696.1 611.3l3.2 3.1-3.2 3.1M687.3 618.7l2.6-2.3" stroke="#6a3fd0" stroke-width="1.3" fill="none" stroke-linecap="round" stroke-linejoin="round"/>
<circle cx="855.0" cy="614.5" r="9.6" fill="#fff" stroke="#4f2fa0" stroke-width="1.3"/>
<path d="M849.8 610.9l4.6 3.5h7.2M858.1 611.3l3.2 3.1-3.2 3.1M849.3 618.7l2.6-2.3" stroke="#6a3fd0" stroke-width="1.3" fill="none" stroke-linecap="round" stroke-linejoin="round"/>
<circle cx="1025.0" cy="614.5" r="9.6" fill="#fff" stroke="#4f2fa0" stroke-width="1.3"/>
<path d="M1019.8 610.9l4.6 3.5h7.2M1028.1 611.3l3.2 3.1-3.2 3.1M1019.3 618.7l2.6-2.3" stroke="#6a3fd0" stroke-width="1.3" fill="none" stroke-linecap="round" stroke-linejoin="round"/>
<circle cx="1100.5" cy="614.5" r="9.6" fill="#fff" stroke="#7a2f8e" stroke-width="1.3"/>
<path d="M1103.8 608.9l-7.2 5.6h4.6l-3.6 5.3 7.4-5.6h-4.6z" fill="#8a35a0"/>
<path d="M68.1 598.2h11.6v14.55h-5.7v-9.05h-5.9z" fill="#131722"/>
<circle cx="85.1" cy="600.9" r="2.8" fill="#131722"/>
<path d="M91.8 598.2h5.8l-5.8 14.55h-6.7z" fill="#131722"/>
<text x="104.6" y="612.75" font-size="20" font-weight="bold" fill="#131722" stroke="#fff" stroke-width="1.5" paint-order="stroke" textLength="121" lengthAdjust="spacingAndGlyphs">TradingView</text>
<text x="70.0" y="679.8" font-size="13" fill="#131722">1D</text>
<text x="97.8" y="679.8" font-size="13" fill="#131722">5D</text>
<text x="126.7" y="679.8" font-size="13" fill="#131722">1M</text>
<text x="155.7" y="679.8" font-size="13" fill="#131722">3M</text>
<text x="184.6" y="679.8" font-size="13" fill="#131722">6M</text>
<text x="214.0" y="679.8" font-size="13" fill="#131722">YTD</text>
<text x="251.0" y="679.8" font-size="13" fill="#131722">1Y</text>
<text x="278.3" y="679.8" font-size="13" fill="#131722">5Y</text>
<text x="304.9" y="679.8" font-size="13" fill="#131722">All</text>
<rect x="332.5" y="664" width="1" height="21" fill="#e0e3eb"/>
<path d="M349 670v-3.5a1.5 1.5 0 0 1 1.5-1.5h12a1.5 1.5 0 0 1 1.5 1.5v14a1.5 1.5 0 0 1-1.5 1.5h-8M349 669.5h15M352.5 663.5v3M360.5 663.5v3M346 679h7M350.5 676.5l2.5 2.5-2.5 2.5" stroke="#131722" stroke-width="1.1" fill="none" stroke-linecap="round" stroke-linejoin="round"/>
<text x="1062.8" y="680.3" font-size="13" fill="#131722">14:44:38 UTC</text>
<rect x="1156.5" y="664" width="1" height="21" fill="#e0e3eb"/>
<text x="1167" y="680.3" font-size="13" fill="#131722">B-ADJ</text>
<rect x="1212.2" y="658.6" width="29.8" height="32.6" rx="4" fill="#ebebeb"/>
<text x="1216" y="680.3" font-size="13" fill="#131722" textLength="21.4" lengthAdjust="spacingAndGlyphs">SET</text>
<text x="72.4" y="721.4" font-size="13" fill="#131722" textLength="67.1" lengthAdjust="spacingAndGlyphs">Pine Editor</text>
<text x="173.7" y="721.4" font-size="13" fill="#131722" textLength="82.6" lengthAdjust="spacingAndGlyphs">Trading Panel</text>
<path d="M1185 720l8.5-7.5 8.5 7.5" stroke="#131722" stroke-width="1.2" fill="none"/>
<rect x="1221.5" y="709.5" width="15" height="15" rx="3.5" stroke="#131722" stroke-width="1.2" fill="none"/>
<rect x="1219" y="714" width="20" height="6" fill="#fff"/>
<circle cx="0" cy="737" r="5" fill="#4f0b38"/>
</svg>
</body></html>
